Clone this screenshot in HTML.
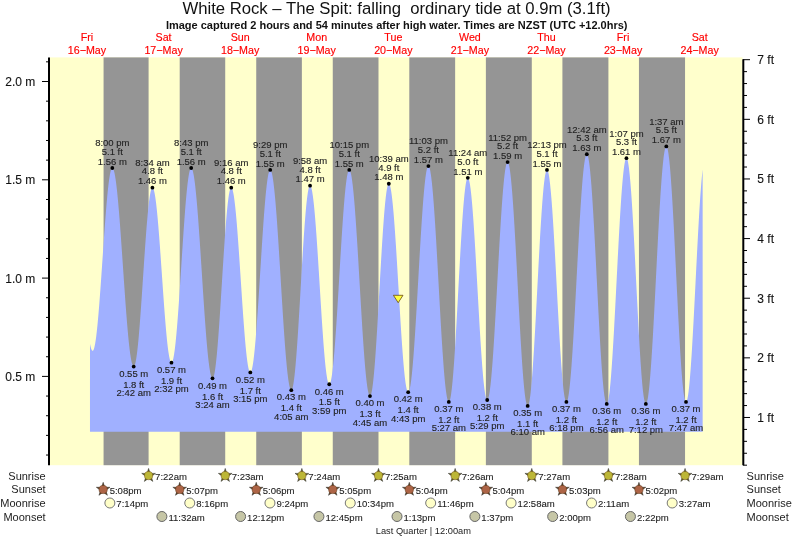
<!DOCTYPE html><html><head><meta charset="utf-8"><style>html,body{margin:0;padding:0;background:#fff;overflow:hidden;}svg{display:block}text{font-family:"Liberation Sans",sans-serif;} .lb text{stroke:#222;stroke-width:0.12px;}</style></head><body>
<div style="will-change:transform">
<svg width="793" height="539" viewBox="0 0 793 539">
<rect x="0" y="0" width="793" height="539" fill="#fff"/>
<rect x="49.0" y="57.4" width="693.6" height="407.8" fill="#ffffcc"/>
<rect x="103.57" y="57.4" width="45.02" height="407.8" fill="#959595"/>
<rect x="179.70" y="57.4" width="45.52" height="407.8" fill="#959595"/>
<rect x="256.23" y="57.4" width="45.63" height="407.8" fill="#959595"/>
<rect x="332.76" y="57.4" width="45.74" height="407.8" fill="#959595"/>
<rect x="409.30" y="57.4" width="45.84" height="407.8" fill="#959595"/>
<rect x="485.88" y="57.4" width="45.90" height="407.8" fill="#959595"/>
<rect x="562.41" y="57.4" width="46.00" height="407.8" fill="#959595"/>
<rect x="638.94" y="57.4" width="46.11" height="407.8" fill="#959595"/>
<polygon points="89.98,431.8 89.98,343.69 90.14,344.51 90.30,345.28 90.46,346.01 90.62,346.68 90.78,347.31 90.94,347.88 91.10,348.41 91.26,348.89 91.42,349.31 91.58,349.68 91.74,350.00 91.90,350.27 92.06,350.49 92.22,350.66 92.38,350.77 92.54,350.83 92.70,350.84 92.85,350.79 93.01,350.68 93.17,350.51 93.33,350.29 93.49,350.00 93.65,349.65 93.81,349.25 93.97,348.79 94.13,348.27 94.29,347.69 94.45,347.06 94.61,346.37 94.77,345.62 94.93,344.82 95.09,343.96 95.25,343.04 95.41,342.08 95.57,341.05 95.73,339.98 95.89,338.85 96.05,337.67 96.21,336.44 96.36,335.16 96.52,333.84 96.68,332.46 96.84,331.04 97.00,329.56 97.16,328.05 97.32,326.49 97.48,324.88 97.64,323.24 97.80,321.55 97.96,319.82 98.12,318.05 98.28,316.25 98.44,314.41 98.60,312.53 98.76,310.62 98.92,308.67 99.08,306.69 99.24,304.68 99.40,302.65 99.56,300.58 99.72,298.49 99.88,296.37 100.03,294.23 100.19,292.06 100.35,289.88 100.51,287.67 100.67,285.45 100.83,283.21 100.99,280.95 101.15,278.68 101.31,276.40 101.47,274.11 101.63,271.80 101.79,269.49 101.95,267.18 102.11,264.85 102.27,262.53 102.43,260.20 102.59,257.87 102.75,255.54 102.91,253.22 103.07,250.90 103.23,248.58 103.39,246.27 103.54,243.97 103.70,241.68 103.86,239.40 104.02,237.14 104.18,234.89 104.34,232.65 104.50,230.44 104.66,228.24 104.82,226.06 104.98,223.90 105.14,221.77 105.30,219.66 105.46,217.57 105.62,215.52 105.78,213.49 105.94,211.49 106.10,209.52 106.26,207.59 106.42,205.69 106.58,203.82 106.74,201.99 106.90,200.20 107.05,198.44 107.21,196.73 107.37,195.06 107.53,193.42 107.69,191.83 107.85,190.29 108.01,188.79 108.17,187.33 108.33,185.92 108.49,184.56 108.65,183.25 108.81,181.99 108.97,180.77 109.13,179.61 109.29,178.50 109.45,177.45 109.61,176.44 109.77,175.49 109.93,174.60 110.09,173.76 110.25,172.97 110.41,172.24 110.56,171.57 110.72,170.95 110.88,170.40 111.04,169.90 111.20,169.45 111.36,169.07 111.52,168.74 111.68,168.48 111.84,168.27 112.00,168.12 112.16,168.03 112.32,168.00 112.48,168.03 112.64,168.11 112.80,168.25 112.96,168.44 113.12,168.69 113.28,168.98 113.44,169.34 113.60,169.75 113.76,170.21 113.92,170.72 114.08,171.29 114.23,171.91 114.39,172.58 114.55,173.30 114.71,174.08 114.87,174.91 115.03,175.79 115.19,176.71 115.35,177.69 115.51,178.72 115.67,179.80 115.83,180.92 115.99,182.09 116.15,183.31 116.31,184.57 116.47,185.89 116.63,187.24 116.79,188.64 116.95,190.08 117.11,191.57 117.27,193.09 117.43,194.66 117.59,196.27 117.74,197.91 117.90,199.60 118.06,201.32 118.22,203.07 118.38,204.87 118.54,206.69 118.70,208.55 118.86,210.45 119.02,212.37 119.18,214.32 119.34,216.31 119.50,218.32 119.66,220.36 119.82,222.42 119.98,224.51 120.14,226.62 120.30,228.76 120.46,230.91 120.62,233.09 120.78,235.28 120.94,237.49 121.10,239.72 121.25,241.97 121.41,244.22 121.57,246.49 121.73,248.77 121.89,251.07 122.05,253.37 122.21,255.68 122.37,257.99 122.53,260.31 122.69,262.63 122.85,264.96 123.01,267.29 123.17,269.61 123.33,271.94 123.49,274.26 123.65,276.58 123.81,278.90 123.97,281.21 124.13,283.51 124.29,285.80 124.45,288.08 124.61,290.35 124.76,292.61 124.92,294.85 125.08,297.08 125.24,299.29 125.40,301.49 125.56,303.66 125.72,305.82 125.88,307.95 126.04,310.06 126.20,312.15 126.36,314.22 126.52,316.26 126.68,318.27 126.84,320.25 127.00,322.20 127.16,324.13 127.32,326.02 127.48,327.88 127.64,329.71 127.80,331.50 127.96,333.26 128.12,334.98 128.27,336.66 128.43,338.31 128.59,339.92 128.75,341.48 128.91,343.01 129.07,344.49 129.23,345.94 129.39,347.33 129.55,348.69 129.71,350.00 129.87,351.26 130.03,352.48 130.19,353.65 130.35,354.78 130.51,355.85 130.67,356.88 130.83,357.86 130.99,358.79 131.15,359.67 131.31,360.49 131.47,361.27 131.63,361.99 131.79,362.67 131.94,363.29 132.10,363.85 132.26,364.37 132.42,364.83 132.58,365.24 132.74,365.59 132.90,365.89 133.06,366.13 133.22,366.32 133.38,366.46 133.54,366.54 133.70,366.57 133.86,366.54 134.02,366.44 134.18,366.28 134.34,366.06 134.50,365.77 134.66,365.42 134.82,365.00 134.98,364.53 135.14,363.99 135.30,363.38 135.45,362.72 135.61,361.99 135.77,361.21 135.93,360.36 136.09,359.45 136.25,358.49 136.41,357.46 136.57,356.38 136.73,355.24 136.89,354.05 137.05,352.80 137.21,351.49 137.37,350.14 137.53,348.73 137.69,347.27 137.85,345.76 138.01,344.20 138.17,342.59 138.33,340.93 138.49,339.23 138.65,337.49 138.81,335.70 138.96,333.87 139.12,331.99 139.28,330.08 139.44,328.13 139.60,326.15 139.76,324.13 139.92,322.07 140.08,319.99 140.24,317.87 140.40,315.72 140.56,313.55 140.72,311.35 140.88,309.12 141.04,306.88 141.20,304.61 141.36,302.32 141.52,300.01 141.68,297.69 141.84,295.35 142.00,293.00 142.16,290.64 142.32,288.27 142.47,285.88 142.63,283.50 142.79,281.11 142.95,278.71 143.11,276.32 143.27,273.92 143.43,271.53 143.59,269.14 143.75,266.76 143.91,264.39 144.07,262.02 144.23,259.67 144.39,257.32 144.55,254.99 144.71,252.68 144.87,250.39 145.03,248.11 145.19,245.86 145.35,243.62 145.51,241.42 145.67,239.23 145.83,237.08 145.99,234.95 146.14,232.85 146.30,230.79 146.46,228.76 146.62,226.76 146.78,224.80 146.94,222.87 147.10,220.99 147.26,219.14 147.42,217.34 147.58,215.58 147.74,213.86 147.90,212.19 148.06,210.57 148.22,208.99 148.38,207.47 148.54,205.99 148.70,204.56 148.86,203.19 149.02,201.86 149.18,200.60 149.34,199.38 149.50,198.23 149.65,197.13 149.81,196.08 149.97,195.10 150.13,194.17 150.29,193.30 150.45,192.50 150.61,191.75 150.77,191.07 150.93,190.44 151.09,189.88 151.25,189.38 151.41,188.95 151.57,188.57 151.73,188.27 151.89,188.02 152.05,187.84 152.21,187.72 152.37,187.67 152.53,187.68 152.69,187.75 152.85,187.88 153.01,188.07 153.16,188.32 153.32,188.64 153.48,189.01 153.64,189.44 153.80,189.93 153.96,190.48 154.12,191.09 154.28,191.76 154.44,192.48 154.60,193.27 154.76,194.10 154.92,195.00 155.08,195.95 155.24,196.96 155.40,198.02 155.56,199.13 155.72,200.30 155.88,201.51 156.04,202.78 156.20,204.10 156.36,205.47 156.52,206.89 156.67,208.35 156.83,209.86 156.99,211.42 157.15,213.02 157.31,214.66 157.47,216.35 157.63,218.07 157.79,219.84 157.95,221.64 158.11,223.48 158.27,225.36 158.43,227.27 158.59,229.21 158.75,231.19 158.91,233.19 159.07,235.23 159.23,237.29 159.39,239.38 159.55,241.49 159.71,243.63 159.87,245.79 160.03,247.97 160.19,250.17 160.34,252.38 160.50,254.62 160.66,256.86 160.82,259.12 160.98,261.39 161.14,263.67 161.30,265.96 161.46,268.25 161.62,270.55 161.78,272.85 161.94,275.15 162.10,277.45 162.26,279.76 162.42,282.05 162.58,284.35 162.74,286.63 162.90,288.91 163.06,291.18 163.22,293.44 163.38,295.69 163.54,297.92 163.70,300.13 163.85,302.33 164.01,304.51 164.17,306.67 164.33,308.81 164.49,310.92 164.65,313.01 164.81,315.07 164.97,317.11 165.13,319.12 165.29,321.09 165.45,323.04 165.61,324.95 165.77,326.82 165.93,328.66 166.09,330.47 166.25,332.23 166.41,333.96 166.57,335.64 166.73,337.28 166.89,338.88 167.05,340.44 167.21,341.95 167.36,343.41 167.52,344.83 167.68,346.20 167.84,347.52 168.00,348.79 168.16,350.01 168.32,351.17 168.48,352.29 168.64,353.34 168.80,354.35 168.96,355.30 169.12,356.20 169.28,357.04 169.44,357.82 169.60,358.54 169.76,359.21 169.92,359.82 170.08,360.37 170.24,360.86 170.40,361.29 170.56,361.67 170.72,361.98 170.87,362.23 171.03,362.42 171.19,362.55 171.35,362.62 171.51,362.63 171.67,362.58 171.83,362.47 171.99,362.29 172.15,362.05 172.31,361.75 172.47,361.38 172.63,360.95 172.79,360.47 172.95,359.92 173.11,359.30 173.27,358.63 173.43,357.90 173.59,357.11 173.75,356.26 173.91,355.35 174.07,354.38 174.23,353.35 174.38,352.27 174.54,351.13 174.70,349.94 174.86,348.69 175.02,347.39 175.18,346.04 175.34,344.63 175.50,343.17 175.66,341.66 175.82,340.11 175.98,338.50 176.14,336.85 176.30,335.15 176.46,333.40 176.62,331.61 176.78,329.78 176.94,327.91 177.10,326.00 177.26,324.04 177.42,322.05 177.58,320.03 177.74,317.97 177.90,315.87 178.05,313.74 178.21,311.58 178.37,309.39 178.53,307.17 178.69,304.93 178.85,302.66 179.01,300.36 179.17,298.05 179.33,295.71 179.49,293.35 179.65,290.97 179.81,288.58 179.97,286.17 180.13,283.75 180.29,281.32 180.45,278.87 180.61,276.42 180.77,273.96 180.93,271.50 181.09,269.03 181.25,266.56 181.41,264.08 181.56,261.61 181.72,259.14 181.88,256.68 182.04,254.22 182.20,251.77 182.36,249.32 182.52,246.89 182.68,244.47 182.84,242.06 183.00,239.67 183.16,237.29 183.32,234.94 183.48,232.60 183.64,230.28 183.80,227.98 183.96,225.71 184.12,223.47 184.28,221.25 184.44,219.06 184.60,216.90 184.76,214.77 184.92,212.68 185.07,210.61 185.23,208.59 185.39,206.60 185.55,204.64 185.71,202.73 185.87,200.86 186.03,199.03 186.19,197.24 186.35,195.50 186.51,193.80 186.67,192.14 186.83,190.54 186.99,188.98 187.15,187.47 187.31,186.01 187.47,184.61 187.63,183.25 187.79,181.95 187.95,180.70 188.11,179.51 188.27,178.37 188.43,177.29 188.58,176.26 188.74,175.29 188.90,174.38 189.06,173.53 189.22,172.74 189.38,172.01 189.54,171.34 189.70,170.73 189.86,170.18 190.02,169.69 190.18,169.26 190.34,168.90 190.50,168.59 190.66,168.35 190.82,168.17 190.98,168.06 191.14,168.01 191.30,168.02 191.46,168.08 191.62,168.21 191.78,168.39 191.94,168.64 192.09,168.94 192.25,169.29 192.41,169.71 192.57,170.18 192.73,170.71 192.89,171.29 193.05,171.93 193.21,172.63 193.37,173.38 193.53,174.19 193.69,175.05 193.85,175.97 194.01,176.94 194.17,177.97 194.33,179.04 194.49,180.17 194.65,181.35 194.81,182.58 194.97,183.86 195.13,185.19 195.29,186.57 195.45,188.00 195.61,189.47 195.76,190.99 195.92,192.55 196.08,194.16 196.24,195.82 196.40,197.51 196.56,199.25 196.72,201.03 196.88,202.85 197.04,204.70 197.20,206.60 197.36,208.53 197.52,210.50 197.68,212.50 197.84,214.54 198.00,216.60 198.16,218.70 198.32,220.83 198.48,222.99 198.64,225.18 198.80,227.39 198.96,229.63 199.12,231.89 199.27,234.17 199.43,236.48 199.59,238.81 199.75,241.15 199.91,243.52 200.07,245.90 200.23,248.29 200.39,250.70 200.55,253.12 200.71,255.55 200.87,257.99 201.03,260.44 201.19,262.90 201.35,265.36 201.51,267.83 201.67,270.30 201.83,272.77 201.99,275.24 202.15,277.72 202.31,280.18 202.47,282.65 202.63,285.11 202.78,287.56 202.94,290.01 203.10,292.44 203.26,294.87 203.42,297.28 203.58,299.68 203.74,302.06 203.90,304.43 204.06,306.78 204.22,309.12 204.38,311.43 204.54,313.72 204.70,315.99 204.86,318.24 205.02,320.46 205.18,322.65 205.34,324.82 205.50,326.96 205.66,329.07 205.82,331.15 205.98,333.20 206.14,335.21 206.29,337.19 206.45,339.13 206.61,341.04 206.77,342.91 206.93,344.74 207.09,346.53 207.25,348.28 207.41,349.99 207.57,351.66 207.73,353.29 207.89,354.87 208.05,356.40 208.21,357.89 208.37,359.33 208.53,360.73 208.69,362.07 208.85,363.37 209.01,364.62 209.17,365.81 209.33,366.96 209.49,368.05 209.65,369.09 209.81,370.08 209.96,371.02 210.12,371.90 210.28,372.72 210.44,373.49 210.60,374.21 210.76,374.87 210.92,375.47 211.08,376.02 211.24,376.51 211.40,376.95 211.56,377.32 211.72,377.64 211.88,377.90 212.04,378.10 212.20,378.25 212.36,378.34 212.52,378.37 212.68,378.33 212.84,378.23 213.00,378.06 213.16,377.82 213.32,377.51 213.47,377.14 213.63,376.70 213.79,376.19 213.95,375.61 214.11,374.97 214.27,374.26 214.43,373.49 214.59,372.65 214.75,371.75 214.91,370.78 215.07,369.75 215.23,368.66 215.39,367.50 215.55,366.29 215.71,365.02 215.87,363.69 216.03,362.30 216.19,360.85 216.35,359.35 216.51,357.79 216.67,356.18 216.83,354.52 216.98,352.80 217.14,351.04 217.30,349.22 217.46,347.36 217.62,345.46 217.78,343.51 217.94,341.51 218.10,339.47 218.26,337.40 218.42,335.28 218.58,333.13 218.74,330.94 218.90,328.71 219.06,326.46 219.22,324.17 219.38,321.85 219.54,319.50 219.70,317.13 219.86,314.74 220.02,312.32 220.18,309.88 220.34,307.42 220.49,304.94 220.65,302.45 220.81,299.94 220.97,297.43 221.13,294.90 221.29,292.36 221.45,289.82 221.61,287.27 221.77,284.72 221.93,282.16 222.09,279.61 222.25,277.06 222.41,274.52 222.57,271.98 222.73,269.45 222.89,266.92 223.05,264.41 223.21,261.92 223.37,259.43 223.53,256.97 223.69,254.52 223.85,252.10 224.00,249.69 224.16,247.31 224.32,244.96 224.48,242.63 224.64,240.33 224.80,238.07 224.96,235.83 225.12,233.63 225.28,231.46 225.44,229.34 225.60,227.24 225.76,225.19 225.92,223.19 226.08,221.22 226.24,219.30 226.40,217.42 226.56,215.59 226.72,213.81 226.88,212.08 227.04,210.40 227.20,208.77 227.36,207.20 227.52,205.67 227.67,204.21 227.83,202.80 227.99,201.45 228.15,200.16 228.31,198.92 228.47,197.75 228.63,196.64 228.79,195.59 228.95,194.60 229.11,193.68 229.27,192.82 229.43,192.02 229.59,191.29 229.75,190.63 229.91,190.03 230.07,189.50 230.23,189.03 230.39,188.63 230.55,188.31 230.71,188.04 230.87,187.85 231.03,187.72 231.18,187.67 231.34,187.68 231.50,187.75 231.66,187.89 231.82,188.09 231.98,188.36 232.14,188.68 232.30,189.08 232.46,189.53 232.62,190.05 232.78,190.62 232.94,191.26 233.10,191.96 233.26,192.73 233.42,193.55 233.58,194.43 233.74,195.37 233.90,196.37 234.06,197.43 234.22,198.54 234.38,199.71 234.54,200.93 234.69,202.21 234.85,203.55 235.01,204.93 235.17,206.37 235.33,207.86 235.49,209.40 235.65,210.98 235.81,212.62 235.97,214.30 236.13,216.03 236.29,217.80 236.45,219.61 236.61,221.47 236.77,223.36 236.93,225.30 237.09,227.27 237.25,229.28 237.41,231.32 237.57,233.40 237.73,235.51 237.89,237.65 238.05,239.82 238.20,242.02 238.36,244.24 238.52,246.49 238.68,248.76 238.84,251.05 239.00,253.36 239.16,255.70 239.32,258.04 239.48,260.41 239.64,262.78 239.80,265.17 239.96,267.57 240.12,269.98 240.28,272.39 240.44,274.81 240.60,277.24 240.76,279.66 240.92,282.09 241.08,284.51 241.24,286.93 241.40,289.35 241.56,291.76 241.72,294.16 241.87,296.55 242.03,298.93 242.19,301.30 242.35,303.66 242.51,305.99 242.67,308.31 242.83,310.61 242.99,312.89 243.15,315.15 243.31,317.38 243.47,319.58 243.63,321.76 243.79,323.91 243.95,326.03 244.11,328.12 244.27,330.18 244.43,332.20 244.59,334.18 244.75,336.13 244.91,338.04 245.07,339.91 245.23,341.73 245.38,343.52 245.54,345.26 245.70,346.96 245.86,348.61 246.02,350.21 246.18,351.77 246.34,353.27 246.50,354.73 246.66,356.13 246.82,357.48 246.98,358.78 247.14,360.02 247.30,361.21 247.46,362.34 247.62,363.42 247.78,364.44 247.94,365.40 248.10,366.30 248.26,367.14 248.42,367.92 248.58,368.64 248.74,369.30 248.89,369.90 249.05,370.44 249.21,370.91 249.37,371.32 249.53,371.67 249.69,371.96 249.85,372.18 250.01,372.34 250.17,372.44 250.33,372.47 250.49,372.44 250.65,372.34 250.81,372.18 250.97,371.95 251.13,371.67 251.29,371.31 251.45,370.90 251.61,370.42 251.77,369.88 251.93,369.27 252.09,368.60 252.25,367.87 252.40,367.08 252.56,366.23 252.72,365.32 252.88,364.35 253.04,363.32 253.20,362.23 253.36,361.08 253.52,359.88 253.68,358.62 253.84,357.30 254.00,355.93 254.16,354.51 254.32,353.03 254.48,351.50 254.64,349.92 254.80,348.29 254.96,346.61 255.12,344.89 255.28,343.11 255.44,341.29 255.60,339.43 255.76,337.52 255.91,335.57 256.07,333.58 256.23,331.55 256.39,329.49 256.55,327.38 256.71,325.24 256.87,323.07 257.03,320.86 257.19,318.62 257.35,316.35 257.51,314.05 257.67,311.73 257.83,309.38 257.99,307.00 258.15,304.60 258.31,302.18 258.47,299.74 258.63,297.29 258.79,294.81 258.95,292.33 259.11,289.82 259.27,287.31 259.43,284.79 259.58,282.25 259.74,279.71 259.90,277.17 260.06,274.62 260.22,272.07 260.38,269.52 260.54,266.97 260.70,264.42 260.86,261.88 261.02,259.34 261.18,256.81 261.34,254.29 261.50,251.78 261.66,249.28 261.82,246.80 261.98,244.33 262.14,241.88 262.30,239.45 262.46,237.03 262.62,234.64 262.78,232.28 262.94,229.93 263.09,227.62 263.25,225.33 263.41,223.07 263.57,220.84 263.73,218.64 263.89,216.48 264.05,214.35 264.21,212.26 264.37,210.20 264.53,208.19 264.69,206.21 264.85,204.27 265.01,202.38 265.17,200.53 265.33,198.73 265.49,196.97 265.65,195.26 265.81,193.60 265.97,191.98 266.13,190.42 266.29,188.91 266.45,187.45 266.60,186.04 266.76,184.69 266.92,183.39 267.08,182.15 267.24,180.97 267.40,179.84 267.56,178.77 267.72,177.76 267.88,176.81 268.04,175.92 268.20,175.08 268.36,174.31 268.52,173.61 268.68,172.96 268.84,172.38 269.00,171.85 269.16,171.40 269.32,171.00 269.48,170.67 269.64,170.40 269.80,170.20 269.96,170.06 270.11,169.98 270.27,169.97 270.43,170.03 270.59,170.14 270.75,170.32 270.91,170.55 271.07,170.86 271.23,171.22 271.39,171.64 271.55,172.13 271.71,172.68 271.87,173.28 272.03,173.95 272.19,174.68 272.35,175.47 272.51,176.31 272.67,177.22 272.83,178.18 272.99,179.21 273.15,180.29 273.31,181.42 273.47,182.61 273.63,183.86 273.78,185.16 273.94,186.51 274.10,187.92 274.26,189.38 274.42,190.89 274.58,192.46 274.74,194.07 274.90,195.73 275.06,197.44 275.22,199.19 275.38,200.99 275.54,202.84 275.70,204.73 275.86,206.66 276.02,208.63 276.18,210.64 276.34,212.70 276.50,214.79 276.66,216.92 276.82,219.08 276.98,221.28 277.14,223.51 277.29,225.78 277.45,228.07 277.61,230.40 277.77,232.75 277.93,235.13 278.09,237.53 278.25,239.96 278.41,242.41 278.57,244.88 278.73,247.38 278.89,249.89 279.05,252.42 279.21,254.96 279.37,257.52 279.53,260.09 279.69,262.67 279.85,265.26 280.01,267.86 280.17,270.47 280.33,273.08 280.49,275.70 280.65,278.32 280.80,280.94 280.96,283.56 281.12,286.18 281.28,288.79 281.44,291.40 281.60,294.00 281.76,296.60 281.92,299.18 282.08,301.76 282.24,304.32 282.40,306.87 282.56,309.40 282.72,311.92 282.88,314.42 283.04,316.90 283.20,319.36 283.36,321.79 283.52,324.21 283.68,326.59 283.84,328.96 284.00,331.29 284.16,333.59 284.31,335.87 284.47,338.11 284.63,340.32 284.79,342.50 284.95,344.64 285.11,346.74 285.27,348.81 285.43,350.83 285.59,352.82 285.75,354.77 285.91,356.67 286.07,358.53 286.23,360.35 286.39,362.12 286.55,363.84 286.71,365.52 286.87,367.14 287.03,368.72 287.19,370.25 287.35,371.73 287.51,373.15 287.67,374.53 287.82,375.85 287.98,377.11 288.14,378.32 288.30,379.47 288.46,380.57 288.62,381.61 288.78,382.60 288.94,383.52 289.10,384.39 289.26,385.20 289.42,385.95 289.58,386.63 289.74,387.26 289.90,387.83 290.06,388.33 290.22,388.78 290.38,389.16 290.54,389.48 290.70,389.74 290.86,389.94 291.02,390.08 291.18,390.15 291.34,390.16 291.49,390.10 291.65,389.96 291.81,389.76 291.97,389.48 292.13,389.13 292.29,388.70 292.45,388.21 292.61,387.64 292.77,387.00 292.93,386.30 293.09,385.52 293.25,384.67 293.41,383.75 293.57,382.77 293.73,381.71 293.89,380.59 294.05,379.41 294.21,378.16 294.37,376.84 294.53,375.46 294.69,374.02 294.85,372.52 295.00,370.96 295.16,369.34 295.32,367.66 295.48,365.92 295.64,364.13 295.80,362.28 295.96,360.38 296.12,358.43 296.28,356.43 296.44,354.38 296.60,352.28 296.76,350.13 296.92,347.95 297.08,345.72 297.24,343.44 297.40,341.13 297.56,338.78 297.72,336.40 297.88,333.98 298.04,331.52 298.20,329.04 298.36,326.53 298.51,323.99 298.67,321.42 298.83,318.83 298.99,316.22 299.15,313.58 299.31,310.93 299.47,308.26 299.63,305.58 299.79,302.89 299.95,300.18 300.11,297.47 300.27,294.75 300.43,292.02 300.59,289.29 300.75,286.57 300.91,283.84 301.07,281.11 301.23,278.39 301.39,275.68 301.55,272.97 301.71,270.28 301.87,267.60 302.02,264.93 302.18,262.28 302.34,259.64 302.50,257.03 302.66,254.44 302.82,251.87 302.98,249.33 303.14,246.82 303.30,244.34 303.46,241.88 303.62,239.46 303.78,237.08 303.94,234.73 304.10,232.42 304.26,230.14 304.42,227.91 304.58,225.73 304.74,223.58 304.90,221.48 305.06,219.43 305.22,217.43 305.38,215.48 305.54,213.58 305.69,211.73 305.85,209.94 306.01,208.20 306.17,206.52 306.33,204.90 306.49,203.34 306.65,201.84 306.81,200.40 306.97,199.02 307.13,197.70 307.29,196.45 307.45,195.27 307.61,194.15 307.77,193.09 307.93,192.11 308.09,191.19 308.25,190.34 308.41,189.56 308.57,188.86 308.73,188.22 308.89,187.65 309.05,187.16 309.20,186.73 309.36,186.38 309.52,186.10 309.68,185.90 309.84,185.76 310.00,185.70 310.16,185.71 310.32,185.79 310.48,185.94 310.64,186.15 310.80,186.43 310.96,186.78 311.12,187.20 311.28,187.68 311.44,188.23 311.60,188.84 311.76,189.52 311.92,190.27 312.08,191.08 312.24,191.95 312.40,192.89 312.56,193.89 312.71,194.95 312.87,196.07 313.03,197.26 313.19,198.50 313.35,199.80 313.51,201.16 313.67,202.58 313.83,204.05 313.99,205.58 314.15,207.17 314.31,208.80 314.47,210.49 314.63,212.23 314.79,214.02 314.95,215.85 315.11,217.74 315.27,219.67 315.43,221.64 315.59,223.66 315.75,225.72 315.91,227.82 316.07,229.96 316.22,232.13 316.38,234.35 316.54,236.59 316.70,238.87 316.86,241.18 317.02,243.52 317.18,245.89 317.34,248.29 317.50,250.71 317.66,253.15 317.82,255.62 317.98,258.10 318.14,260.61 318.30,263.13 318.46,265.66 318.62,268.21 318.78,270.77 318.94,273.34 319.10,275.92 319.26,278.51 319.42,281.09 319.58,283.69 319.74,286.28 319.89,288.87 320.05,291.46 320.21,294.04 320.37,296.62 320.53,299.19 320.69,301.75 320.85,304.30 321.01,306.83 321.17,309.35 321.33,311.86 321.49,314.34 321.65,316.81 321.81,319.25 321.97,321.67 322.13,324.07 322.29,326.44 322.45,328.78 322.61,331.09 322.77,333.37 322.93,335.62 323.09,337.83 323.25,340.00 323.40,342.14 323.56,344.24 323.72,346.30 323.88,348.32 324.04,350.29 324.20,352.22 324.36,354.11 324.52,355.94 324.68,357.73 324.84,359.47 325.00,361.16 325.16,362.80 325.32,364.38 325.48,365.91 325.64,367.38 325.80,368.80 325.96,370.16 326.12,371.46 326.28,372.71 326.44,373.89 326.60,375.01 326.76,376.07 326.91,377.07 327.07,378.01 327.23,378.88 327.39,379.69 327.55,380.44 327.71,381.12 327.87,381.73 328.03,382.28 328.19,382.76 328.35,383.18 328.51,383.53 328.67,383.81 328.83,384.02 328.99,384.17 329.15,384.25 329.31,384.26 329.47,384.20 329.63,384.08 329.79,383.89 329.95,383.63 330.11,383.31 330.27,382.92 330.42,382.46 330.58,381.93 330.74,381.35 330.90,380.69 331.06,379.97 331.22,379.18 331.38,378.34 331.54,377.42 331.70,376.45 331.86,375.41 332.02,374.31 332.18,373.15 332.34,371.93 332.50,370.65 332.66,369.31 332.82,367.91 332.98,366.45 333.14,364.94 333.30,363.38 333.46,361.76 333.62,360.08 333.78,358.36 333.93,356.58 334.09,354.76 334.25,352.88 334.41,350.96 334.57,348.99 334.73,346.98 334.89,344.92 335.05,342.82 335.21,340.67 335.37,338.49 335.53,336.27 335.69,334.01 335.85,331.72 336.01,329.39 336.17,327.03 336.33,324.64 336.49,322.22 336.65,319.77 336.81,317.29 336.97,314.79 337.13,312.26 337.29,309.72 337.45,307.15 337.60,304.56 337.76,301.96 337.92,299.34 338.08,296.70 338.24,294.06 338.40,291.40 338.56,288.73 338.72,286.06 338.88,283.38 339.04,280.70 339.20,278.01 339.36,275.33 339.52,272.64 339.68,269.96 339.84,267.28 340.00,264.61 340.16,261.95 340.32,259.30 340.48,256.65 340.64,254.02 340.80,251.41 340.96,248.81 341.11,246.23 341.27,243.67 341.43,241.13 341.59,238.61 341.75,236.11 341.91,233.65 342.07,231.20 342.23,228.79 342.39,226.41 342.55,224.06 342.71,221.74 342.87,219.46 343.03,217.22 343.19,215.01 343.35,212.84 343.51,210.71 343.67,208.63 343.83,206.58 343.99,204.58 344.15,202.63 344.31,200.72 344.47,198.86 344.62,197.05 344.78,195.29 344.94,193.59 345.10,191.93 345.26,190.33 345.42,188.78 345.58,187.29 345.74,185.85 345.90,184.47 346.06,183.15 346.22,181.89 346.38,180.69 346.54,179.55 346.70,178.47 346.86,177.45 347.02,176.50 347.18,175.61 347.34,174.78 347.50,174.02 347.66,173.32 347.82,172.68 347.98,172.12 348.13,171.62 348.29,171.18 348.45,170.81 348.61,170.51 348.77,170.27 348.93,170.10 349.09,170.00 349.25,169.97 349.41,170.00 349.57,170.10 349.73,170.27 349.89,170.50 350.05,170.79 350.21,171.16 350.37,171.58 350.53,172.08 350.69,172.63 350.85,173.25 351.01,173.94 351.17,174.69 351.33,175.50 351.49,176.38 351.64,177.32 351.80,178.32 351.96,179.38 352.12,180.50 352.28,181.68 352.44,182.92 352.60,184.22 352.76,185.57 352.92,186.99 353.08,188.46 353.24,189.98 353.40,191.56 353.56,193.19 353.72,194.88 353.88,196.61 354.04,198.40 354.20,200.24 354.36,202.12 354.52,204.05 354.68,206.03 354.84,208.05 355.00,210.12 355.16,212.23 355.31,214.38 355.47,216.57 355.63,218.80 355.79,221.06 355.95,223.37 356.11,225.71 356.27,228.08 356.43,230.48 356.59,232.91 356.75,235.38 356.91,237.87 357.07,240.39 357.23,242.93 357.39,245.49 357.55,248.08 357.71,250.69 357.87,253.32 358.03,255.96 358.19,258.62 358.35,261.30 358.51,263.98 358.67,266.68 358.82,269.39 358.98,272.10 359.14,274.83 359.30,277.55 359.46,280.28 359.62,283.01 359.78,285.75 359.94,288.48 360.10,291.20 360.26,293.93 360.42,296.64 360.58,299.35 360.74,302.05 360.90,304.73 361.06,307.41 361.22,310.07 361.38,312.71 361.54,315.34 361.70,317.95 361.86,320.54 362.02,323.10 362.18,325.64 362.33,328.16 362.49,330.65 362.65,333.12 362.81,335.55 362.97,337.95 363.13,340.32 363.29,342.66 363.45,344.97 363.61,347.23 363.77,349.46 363.93,351.65 364.09,353.80 364.25,355.91 364.41,357.98 364.57,360.00 364.73,361.98 364.89,363.91 365.05,365.79 365.21,367.63 365.37,369.42 365.53,371.15 365.69,372.84 365.84,374.47 366.00,376.05 366.16,377.57 366.32,379.04 366.48,380.46 366.64,381.81 366.80,383.11 366.96,384.35 367.12,385.53 367.28,386.65 367.44,387.71 367.60,388.71 367.76,389.65 367.92,390.53 368.08,391.34 368.24,392.09 368.40,392.78 368.56,393.40 368.72,393.95 368.88,394.45 369.04,394.87 369.20,395.24 369.36,395.53 369.51,395.76 369.67,395.93 369.83,396.03 369.99,396.06 370.15,396.02 370.31,395.91 370.47,395.72 370.63,395.46 370.79,395.12 370.95,394.71 371.11,394.22 371.27,393.66 371.43,393.03 371.59,392.32 371.75,391.54 371.91,390.69 372.07,389.76 372.23,388.77 372.39,387.71 372.55,386.57 372.71,385.37 372.87,384.10 373.02,382.76 373.18,381.36 373.34,379.89 373.50,378.36 373.66,376.77 373.82,375.12 373.98,373.40 374.14,371.62 374.30,369.79 374.46,367.90 374.62,365.96 374.78,363.96 374.94,361.91 375.10,359.81 375.26,357.65 375.42,355.45 375.58,353.21 375.74,350.92 375.90,348.58 376.06,346.21 376.22,343.79 376.38,341.34 376.53,338.85 376.69,336.32 376.85,333.76 377.01,331.18 377.17,328.56 377.33,325.91 377.49,323.24 377.65,320.54 377.81,317.83 377.97,315.09 378.13,312.34 378.29,309.57 378.45,306.78 378.61,303.99 378.77,301.18 378.93,298.37 379.09,295.55 379.25,292.72 379.41,289.90 379.57,287.07 379.73,284.25 379.89,281.43 380.04,278.61 380.20,275.81 380.36,273.01 380.52,270.23 380.68,267.45 380.84,264.70 381.00,261.96 381.16,259.25 381.32,256.55 381.48,253.88 381.64,251.24 381.80,248.62 381.96,246.03 382.12,243.47 382.28,240.94 382.44,238.45 382.60,236.00 382.76,233.58 382.92,231.21 383.08,228.87 383.24,226.58 383.40,224.34 383.56,222.14 383.71,219.99 383.87,217.88 384.03,215.83 384.19,213.83 384.35,211.89 384.51,210.00 384.67,208.17 384.83,206.39 384.99,204.68 385.15,203.02 385.31,201.43 385.47,199.90 385.63,198.43 385.79,197.03 385.95,195.69 386.11,194.42 386.27,193.22 386.43,192.09 386.59,191.02 386.75,190.03 386.91,189.10 387.07,188.25 387.22,187.47 387.38,186.77 387.54,186.13 387.70,185.57 387.86,185.08 388.02,184.67 388.18,184.33 388.34,184.07 388.50,183.88 388.66,183.77 388.82,183.73 388.98,183.77 389.14,183.87 389.30,184.05 389.46,184.29 389.62,184.60 389.78,184.99 389.94,185.44 390.10,185.96 390.26,186.55 390.42,187.21 390.58,187.93 390.73,188.72 390.89,189.58 391.05,190.50 391.21,191.49 391.37,192.55 391.53,193.66 391.69,194.85 391.85,196.09 392.01,197.39 392.17,198.76 392.33,200.18 392.49,201.67 392.65,203.21 392.81,204.81 392.97,206.46 393.13,208.17 393.29,209.94 393.45,211.75 393.61,213.62 393.77,215.53 393.93,217.50 394.09,219.51 394.24,221.57 394.40,223.67 394.56,225.81 394.72,228.00 394.88,230.23 395.04,232.49 395.20,234.80 395.36,237.13 395.52,239.51 395.68,241.91 395.84,244.35 396.00,246.81 396.16,249.30 396.32,251.82 396.48,254.37 396.64,256.93 396.80,259.52 396.96,262.12 397.12,264.74 397.28,267.38 397.44,270.03 397.60,272.70 397.75,275.37 397.91,278.05 398.07,280.74 398.23,283.43 398.39,286.13 398.55,288.83 398.71,291.53 398.87,294.22 399.03,296.91 399.19,299.60 399.35,302.27 399.51,304.94 399.67,307.60 399.83,310.24 399.99,312.87 400.15,315.48 400.31,318.07 400.47,320.64 400.63,323.19 400.79,325.72 400.95,328.22 401.11,330.69 401.27,333.14 401.42,335.56 401.58,337.94 401.74,340.29 401.90,342.60 402.06,344.88 402.22,347.12 402.38,349.32 402.54,351.48 402.70,353.60 402.86,355.67 403.02,357.70 403.18,359.68 403.34,361.61 403.50,363.49 403.66,365.32 403.82,367.10 403.98,368.83 404.14,370.50 404.30,372.12 404.46,373.68 404.62,375.19 404.78,376.63 404.93,378.02 405.09,379.34 405.25,380.61 405.41,381.81 405.57,382.95 405.73,384.02 405.89,385.03 406.05,385.98 406.21,386.86 406.37,387.67 406.53,388.42 406.69,389.10 406.85,389.71 407.01,390.26 407.17,390.73 407.33,391.14 407.49,391.47 407.65,391.74 407.81,391.94 407.97,392.07 408.13,392.12 408.29,392.11 408.44,392.03 408.60,391.88 408.76,391.66 408.92,391.37 409.08,391.01 409.24,390.59 409.40,390.09 409.56,389.53 409.72,388.89 409.88,388.20 410.04,387.43 410.20,386.60 410.36,385.70 410.52,384.73 410.68,383.70 410.84,382.61 411.00,381.45 411.16,380.23 411.32,378.94 411.48,377.60 411.64,376.19 411.80,374.73 411.95,373.21 412.11,371.62 412.27,369.99 412.43,368.29 412.59,366.54 412.75,364.74 412.91,362.88 413.07,360.98 413.23,359.02 413.39,357.01 413.55,354.96 413.71,352.85 413.87,350.71 414.03,348.52 414.19,346.28 414.35,344.01 414.51,341.69 414.67,339.34 414.83,336.95 414.99,334.52 415.15,332.06 415.31,329.57 415.46,327.05 415.62,324.49 415.78,321.91 415.94,319.30 416.10,316.67 416.26,314.02 416.42,311.34 416.58,308.64 416.74,305.93 416.90,303.20 417.06,300.45 417.22,297.69 417.38,294.92 417.54,292.14 417.70,289.35 417.86,286.55 418.02,283.75 418.18,280.95 418.34,278.15 418.50,275.35 418.66,272.54 418.82,269.75 418.98,266.96 419.13,264.17 419.29,261.40 419.45,258.64 419.61,255.88 419.77,253.15 419.93,250.43 420.09,247.72 420.25,245.04 420.41,242.38 420.57,239.74 420.73,237.12 420.89,234.53 421.05,231.97 421.21,229.43 421.37,226.93 421.53,224.46 421.69,222.02 421.85,219.62 422.01,217.25 422.17,214.93 422.33,212.64 422.49,210.39 422.64,208.18 422.80,206.02 422.96,203.91 423.12,201.83 423.28,199.81 423.44,197.84 423.60,195.91 423.76,194.04 423.92,192.22 424.08,190.45 424.24,188.74 424.40,187.08 424.56,185.48 424.72,183.94 424.88,182.45 425.04,181.03 425.20,179.66 425.36,178.36 425.52,177.12 425.68,175.94 425.84,174.82 426.00,173.77 426.15,172.78 426.31,171.86 426.47,171.01 426.63,170.22 426.79,169.50 426.95,168.84 427.11,168.26 427.27,167.74 427.43,167.29 427.59,166.91 427.75,166.59 427.91,166.35 428.07,166.18 428.23,166.07 428.39,166.04 428.55,166.07 428.71,166.18 428.87,166.36 429.03,166.61 429.19,166.93 429.35,167.31 429.51,167.77 429.66,168.30 429.82,168.90 429.98,169.57 430.14,170.31 430.30,171.12 430.46,171.99 430.62,172.93 430.78,173.94 430.94,175.02 431.10,176.16 431.26,177.36 431.42,178.63 431.58,179.97 431.74,181.36 431.90,182.82 432.06,184.34 432.22,185.92 432.38,187.56 432.54,189.25 432.70,191.00 432.86,192.81 433.02,194.68 433.18,196.60 433.33,198.57 433.49,200.59 433.65,202.66 433.81,204.78 433.97,206.95 434.13,209.16 434.29,211.43 434.45,213.73 434.61,216.08 434.77,218.46 434.93,220.89 435.09,223.35 435.25,225.86 435.41,228.39 435.57,230.96 435.73,233.56 435.89,236.20 436.05,238.86 436.21,241.54 436.37,244.26 436.53,247.00 436.69,249.76 436.84,252.54 437.00,255.34 437.16,258.15 437.32,260.99 437.48,263.83 437.64,266.69 437.80,269.56 437.96,272.44 438.12,275.32 438.28,278.21 438.44,281.10 438.60,284.00 438.76,286.89 438.92,289.79 439.08,292.68 439.24,295.56 439.40,298.44 439.56,301.31 439.72,304.16 439.88,307.01 440.04,309.84 440.20,312.66 440.35,315.46 440.51,318.24 440.67,321.00 440.83,323.74 440.99,326.45 441.15,329.14 441.31,331.80 441.47,334.43 441.63,337.03 441.79,339.60 441.95,342.14 442.11,344.64 442.27,347.11 442.43,349.53 442.59,351.92 442.75,354.27 442.91,356.57 443.07,358.83 443.23,361.05 443.39,363.22 443.55,365.34 443.71,367.41 443.86,369.43 444.02,371.40 444.18,373.32 444.34,375.18 444.50,376.99 444.66,378.74 444.82,380.44 444.98,382.08 445.14,383.66 445.30,385.18 445.46,386.63 445.62,388.03 445.78,389.36 445.94,390.63 446.10,391.84 446.26,392.98 446.42,394.05 446.58,395.06 446.74,396.00 446.90,396.88 447.06,397.69 447.22,398.42 447.38,399.09 447.53,399.69 447.69,400.22 447.85,400.68 448.01,401.07 448.17,401.39 448.33,401.64 448.49,401.82 448.65,401.92 448.81,401.96 448.97,401.92 449.13,401.80 449.29,401.61 449.45,401.33 449.61,400.98 449.77,400.56 449.93,400.05 450.09,399.47 450.25,398.81 450.41,398.08 450.57,397.27 450.73,396.38 450.89,395.42 451.04,394.39 451.20,393.29 451.36,392.11 451.52,390.86 451.68,389.54 451.84,388.15 452.00,386.70 452.16,385.17 452.32,383.58 452.48,381.93 452.64,380.21 452.80,378.42 452.96,376.58 453.12,374.67 453.28,372.71 453.44,370.69 453.60,368.61 453.76,366.48 453.92,364.29 454.08,362.05 454.24,359.77 454.40,357.43 454.55,355.04 454.71,352.61 454.87,350.14 455.03,347.63 455.19,345.07 455.35,342.48 455.51,339.85 455.67,337.18 455.83,334.48 455.99,331.75 456.15,328.99 456.31,326.21 456.47,323.40 456.63,320.56 456.79,317.71 456.95,314.83 457.11,311.94 457.27,309.03 457.43,306.11 457.59,303.18 457.75,300.24 457.91,297.29 458.06,294.33 458.22,291.38 458.38,288.42 458.54,285.46 458.70,282.51 458.86,279.56 459.02,276.61 459.18,273.68 459.34,270.76 459.50,267.85 459.66,264.96 459.82,262.08 459.98,259.23 460.14,256.39 460.30,253.58 460.46,250.80 460.62,248.04 460.78,245.31 460.94,242.61 461.10,239.95 461.26,237.32 461.42,234.72 461.57,232.17 461.73,229.65 461.89,227.18 462.05,224.75 462.21,222.36 462.37,220.03 462.53,217.74 462.69,215.50 462.85,213.31 463.01,211.18 463.17,209.10 463.33,207.08 463.49,205.12 463.65,203.21 463.81,201.37 463.97,199.58 464.13,197.87 464.29,196.21 464.45,194.62 464.61,193.09 464.77,191.64 464.93,190.25 465.09,188.93 465.24,187.68 465.40,186.51 465.56,185.40 465.72,184.37 465.88,183.41 466.04,182.53 466.20,181.72 466.36,180.98 466.52,180.32 466.68,179.74 466.84,179.24 467.00,178.81 467.16,178.46 467.32,178.19 467.48,177.99 467.64,177.87 467.80,177.83 467.96,177.87 468.12,177.98 468.28,178.17 468.44,178.43 468.60,178.76 468.75,179.16 468.91,179.64 469.07,180.20 469.23,180.82 469.39,181.52 469.55,182.28 469.71,183.12 469.87,184.03 470.03,185.01 470.19,186.06 470.35,187.18 470.51,188.37 470.67,189.62 470.83,190.94 470.99,192.32 471.15,193.77 471.31,195.28 471.47,196.85 471.63,198.49 471.79,200.19 471.95,201.94 472.11,203.75 472.26,205.62 472.42,207.55 472.58,209.53 472.74,211.56 472.90,213.64 473.06,215.78 473.22,217.96 473.38,220.19 473.54,222.47 473.70,224.79 473.86,227.15 474.02,229.56 474.18,232.00 474.34,234.48 474.50,237.00 474.66,239.55 474.82,242.14 474.98,244.75 475.14,247.40 475.30,250.07 475.46,252.77 475.62,255.50 475.77,258.24 475.93,261.01 476.09,263.80 476.25,266.60 476.41,269.42 476.57,272.24 476.73,275.09 476.89,277.94 477.05,280.79 477.21,283.66 477.37,286.52 477.53,289.39 477.69,292.26 477.85,295.12 478.01,297.99 478.17,300.84 478.33,303.69 478.49,306.53 478.65,309.35 478.81,312.16 478.97,314.96 479.13,317.74 479.28,320.50 479.44,323.24 479.60,325.95 479.76,328.65 479.92,331.31 480.08,333.95 480.24,336.55 480.40,339.13 480.56,341.67 480.72,344.18 480.88,346.65 481.04,349.08 481.20,351.47 481.36,353.82 481.52,356.12 481.68,358.38 481.84,360.60 482.00,362.76 482.16,364.88 482.32,366.95 482.48,368.96 482.64,370.93 482.80,372.83 482.95,374.68 483.11,376.48 483.27,378.21 483.43,379.89 483.59,381.50 483.75,383.06 483.91,384.55 484.07,385.97 484.23,387.34 484.39,388.63 484.55,389.86 484.71,391.03 484.87,392.12 485.03,393.15 485.19,394.10 485.35,394.99 485.51,395.81 485.67,396.55 485.83,397.22 485.99,397.82 486.15,398.35 486.31,398.81 486.46,399.19 486.62,399.49 486.78,399.73 486.94,399.89 487.10,399.98 487.26,399.99 487.42,399.93 487.58,399.80 487.74,399.59 487.90,399.32 488.06,398.97 488.22,398.55 488.38,398.06 488.54,397.50 488.70,396.87 488.86,396.17 489.02,395.40 489.18,394.56 489.34,393.65 489.50,392.67 489.66,391.63 489.82,390.51 489.97,389.34 490.13,388.09 490.29,386.78 490.45,385.41 490.61,383.98 490.77,382.48 490.93,380.92 491.09,379.30 491.25,377.62 491.41,375.88 491.57,374.09 491.73,372.23 491.89,370.33 492.05,368.37 492.21,366.35 492.37,364.29 492.53,362.17 492.69,360.01 492.85,357.79 493.01,355.54 493.17,353.23 493.33,350.88 493.48,348.49 493.64,346.06 493.80,343.59 493.96,341.08 494.12,338.54 494.28,335.96 494.44,333.35 494.60,330.70 494.76,328.03 494.92,325.32 495.08,322.59 495.24,319.84 495.40,317.06 495.56,314.26 495.72,311.44 495.88,308.60 496.04,305.75 496.20,302.88 496.36,299.99 496.52,297.10 496.68,294.19 496.84,291.28 497.00,288.36 497.15,285.44 497.31,282.51 497.47,279.59 497.63,276.66 497.79,273.74 497.95,270.82 498.11,267.90 498.27,265.00 498.43,262.11 498.59,259.22 498.75,256.35 498.91,253.50 499.07,250.66 499.23,247.84 499.39,245.04 499.55,242.26 499.71,239.50 499.87,236.77 500.03,234.07 500.19,231.40 500.35,228.75 500.51,226.14 500.66,223.56 500.82,221.02 500.98,218.51 501.14,216.04 501.30,213.61 501.46,211.22 501.62,208.87 501.78,206.56 501.94,204.30 502.10,202.09 502.26,199.93 502.42,197.81 502.58,195.75 502.74,193.73 502.90,191.77 503.06,189.86 503.22,188.01 503.38,186.22 503.54,184.48 503.70,182.80 503.86,181.18 504.02,179.62 504.17,178.12 504.33,176.69 504.49,175.31 504.65,174.01 504.81,172.76 504.97,171.58 505.13,170.47 505.29,169.43 505.45,168.45 505.61,167.54 505.77,166.70 505.93,165.93 506.09,165.23 506.25,164.60 506.41,164.04 506.57,163.55 506.73,163.13 506.89,162.78 507.05,162.51 507.21,162.30 507.37,162.17 507.53,162.11 507.68,162.12 507.84,162.21 508.00,162.38 508.16,162.62 508.32,162.93 508.48,163.32 508.64,163.79 508.80,164.33 508.96,164.94 509.12,165.63 509.28,166.39 509.44,167.23 509.60,168.13 509.76,169.11 509.92,170.17 510.08,171.29 510.24,172.48 510.40,173.74 510.56,175.07 510.72,176.47 510.88,177.93 511.04,179.46 511.19,181.06 511.35,182.72 511.51,184.44 511.67,186.23 511.83,188.07 511.99,189.98 512.15,191.94 512.31,193.96 512.47,196.04 512.63,198.17 512.79,200.35 512.95,202.59 513.11,204.87 513.27,207.21 513.43,209.59 513.59,212.02 513.75,214.50 513.91,217.02 514.07,219.58 514.23,222.18 514.39,224.82 514.55,227.49 514.71,230.20 514.86,232.94 515.02,235.72 515.18,238.52 515.34,241.36 515.50,244.22 515.66,247.10 515.82,250.01 515.98,252.94 516.14,255.89 516.30,258.85 516.46,261.83 516.62,264.83 516.78,267.84 516.94,270.85 517.10,273.88 517.26,276.91 517.42,279.95 517.58,282.98 517.74,286.02 517.90,289.06 518.06,292.10 518.22,295.13 518.37,298.15 518.53,301.16 518.69,304.17 518.85,307.16 519.01,310.13 519.17,313.09 519.33,316.03 519.49,318.96 519.65,321.86 519.81,324.73 519.97,327.59 520.13,330.41 520.29,333.21 520.45,335.97 520.61,338.70 520.77,341.40 520.93,344.06 521.09,346.69 521.25,349.28 521.41,351.82 521.57,354.33 521.73,356.79 521.88,359.20 522.04,361.57 522.20,363.89 522.36,366.16 522.52,368.38 522.68,370.55 522.84,372.66 523.00,374.72 523.16,376.72 523.32,378.66 523.48,380.55 523.64,382.37 523.80,384.14 523.96,385.84 524.12,387.48 524.28,389.05 524.44,390.56 524.60,392.00 524.76,393.38 524.92,394.68 525.08,395.92 525.24,397.09 525.39,398.19 525.55,399.22 525.71,400.17 525.87,401.06 526.03,401.87 526.19,402.60 526.35,403.27 526.51,403.86 526.67,404.37 526.83,404.81 526.99,405.18 527.15,405.47 527.31,405.68 527.47,405.82 527.63,405.89 527.79,405.87 527.95,405.78 528.11,405.61 528.27,405.36 528.43,405.03 528.59,404.62 528.75,404.13 528.91,403.56 529.06,402.92 529.22,402.19 529.38,401.40 529.54,400.52 529.70,399.57 529.86,398.54 530.02,397.44 530.18,396.27 530.34,395.02 530.50,393.70 530.66,392.31 530.82,390.84 530.98,389.31 531.14,387.71 531.30,386.05 531.46,384.31 531.62,382.51 531.78,380.65 531.94,378.73 532.10,376.74 532.26,374.70 532.42,372.59 532.57,370.43 532.73,368.22 532.89,365.95 533.05,363.62 533.21,361.25 533.37,358.82 533.53,356.35 533.69,353.84 533.85,351.27 534.01,348.67 534.17,346.02 534.33,343.34 534.49,340.62 534.65,337.86 534.81,335.07 534.97,332.24 535.13,329.39 535.29,326.51 535.45,323.60 535.61,320.67 535.77,317.72 535.93,314.75 536.08,311.76 536.24,308.75 536.40,305.73 536.56,302.69 536.72,299.65 536.88,296.60 537.04,293.54 537.20,290.48 537.36,287.42 537.52,284.36 537.68,281.30 537.84,278.24 538.00,275.19 538.16,272.15 538.32,269.12 538.48,266.11 538.64,263.11 538.80,260.12 538.96,257.15 539.12,254.21 539.28,251.28 539.44,248.39 539.59,245.51 539.75,242.67 539.91,239.86 540.07,237.08 540.23,234.33 540.39,231.62 540.55,228.95 540.71,226.32 540.87,223.73 541.03,221.18 541.19,218.68 541.35,216.22 541.51,213.81 541.67,211.46 541.83,209.15 541.99,206.90 542.15,204.70 542.31,202.56 542.47,200.47 542.63,198.45 542.79,196.48 542.95,194.58 543.11,192.74 543.26,190.96 543.42,189.25 543.58,187.61 543.74,186.03 543.90,184.52 544.06,183.08 544.22,181.72 544.38,180.42 544.54,179.19 544.70,178.04 544.86,176.97 545.02,175.97 545.18,175.04 545.34,174.19 545.50,173.42 545.66,172.72 545.82,172.10 545.98,171.56 546.14,171.10 546.30,170.72 546.46,170.41 546.62,170.19 546.77,170.04 546.93,169.97 547.09,169.99 547.25,170.08 547.41,170.24 547.57,170.49 547.73,170.81 547.89,171.21 548.05,171.68 548.21,172.24 548.37,172.86 548.53,173.56 548.69,174.34 548.85,175.19 549.01,176.12 549.17,177.12 549.33,178.19 549.49,179.33 549.65,180.55 549.81,181.83 549.97,183.19 550.13,184.61 550.28,186.10 550.44,187.65 550.60,189.28 550.76,190.96 550.92,192.71 551.08,194.53 551.24,196.40 551.40,198.33 551.56,200.32 551.72,202.37 551.88,204.48 552.04,206.63 552.20,208.84 552.36,211.11 552.52,213.42 552.68,215.78 552.84,218.19 553.00,220.64 553.16,223.14 553.32,225.68 553.48,228.26 553.64,230.87 553.79,233.53 553.95,236.22 554.11,238.94 554.27,241.69 554.43,244.47 554.59,247.28 554.75,250.12 554.91,252.98 555.07,255.86 555.23,258.76 555.39,261.68 555.55,264.62 555.71,267.57 555.87,270.54 556.03,273.51 556.19,276.49 556.35,279.48 556.51,282.47 556.67,285.46 556.83,288.46 556.99,291.45 557.15,294.44 557.30,297.43 557.46,300.40 557.62,303.37 557.78,306.32 557.94,309.27 558.10,312.19 558.26,315.10 558.42,317.99 558.58,320.86 558.74,323.70 558.90,326.52 559.06,329.31 559.22,332.08 559.38,334.81 559.54,337.51 559.70,340.17 559.86,342.80 560.02,345.40 560.18,347.95 560.34,350.46 560.50,352.93 560.66,355.35 560.82,357.73 560.97,360.06 561.13,362.33 561.29,364.56 561.45,366.74 561.61,368.86 561.77,370.93 561.93,372.94 562.09,374.89 562.25,376.78 562.41,378.62 562.57,380.39 562.73,382.10 562.89,383.74 563.05,385.32 563.21,386.83 563.37,388.28 563.53,389.65 563.69,390.96 563.85,392.20 564.01,393.37 564.17,394.46 564.33,395.48 564.48,396.43 564.64,397.31 564.80,398.11 564.96,398.84 565.12,399.49 565.28,400.07 565.44,400.57 565.60,400.99 565.76,401.34 565.92,401.61 566.08,401.80 566.24,401.92 566.40,401.96 566.56,401.92 566.72,401.81 566.88,401.62 567.04,401.36 567.20,401.03 567.36,400.62 567.52,400.13 567.68,399.58 567.84,398.95 567.99,398.25 568.15,397.47 568.31,396.62 568.47,395.71 568.63,394.72 568.79,393.66 568.95,392.53 569.11,391.33 569.27,390.07 569.43,388.73 569.59,387.33 569.75,385.87 569.91,384.34 570.07,382.74 570.23,381.08 570.39,379.36 570.55,377.58 570.71,375.74 570.87,373.84 571.03,371.89 571.19,369.87 571.35,367.80 571.50,365.68 571.66,363.51 571.82,361.28 571.98,359.00 572.14,356.67 572.30,354.30 572.46,351.88 572.62,349.42 572.78,346.91 572.94,344.36 573.10,341.78 573.26,339.15 573.42,336.49 573.58,333.79 573.74,331.06 573.90,328.29 574.06,325.50 574.22,322.68 574.38,319.83 574.54,316.95 574.70,314.05 574.86,311.13 575.01,308.20 575.17,305.24 575.33,302.26 575.49,299.27 575.65,296.27 575.81,293.26 575.97,290.24 576.13,287.21 576.29,284.18 576.45,281.14 576.61,278.10 576.77,275.06 576.93,272.02 577.09,268.99 577.25,265.96 577.41,262.94 577.57,259.93 577.73,256.93 577.89,253.94 578.05,250.96 578.21,248.00 578.37,245.07 578.53,242.15 578.68,239.25 578.84,236.37 579.00,233.52 579.16,230.70 579.32,227.91 579.48,225.14 579.64,222.41 579.80,219.71 579.96,217.05 580.12,214.42 580.28,211.84 580.44,209.29 580.60,206.78 580.76,204.32 580.92,201.90 581.08,199.53 581.24,197.20 581.40,194.92 581.56,192.69 581.72,190.52 581.88,188.40 582.04,186.33 582.19,184.31 582.35,182.36 582.51,180.46 582.67,178.62 582.83,176.84 582.99,175.12 583.15,173.46 583.31,171.86 583.47,170.33 583.63,168.87 583.79,167.47 583.95,166.13 584.11,164.87 584.27,163.67 584.43,162.54 584.59,161.48 584.75,160.49 584.91,159.58 585.07,158.73 585.23,157.95 585.39,157.25 585.55,156.62 585.70,156.07 585.86,155.58 586.02,155.17 586.18,154.84 586.34,154.58 586.50,154.39 586.66,154.28 586.82,154.24 586.98,154.28 587.14,154.40 587.30,154.60 587.46,154.88 587.62,155.23 587.78,155.67 587.94,156.18 588.10,156.77 588.26,157.44 588.42,158.19 588.58,159.01 588.74,159.91 588.90,160.88 589.06,161.93 589.21,163.06 589.37,164.25 589.53,165.52 589.69,166.87 589.85,168.28 590.01,169.76 590.17,171.32 590.33,172.94 590.49,174.63 590.65,176.39 590.81,178.21 590.97,180.09 591.13,182.04 591.29,184.05 591.45,186.12 591.61,188.25 591.77,190.44 591.93,192.68 592.09,194.98 592.25,197.33 592.41,199.73 592.57,202.19 592.73,204.69 592.88,207.24 593.04,209.83 593.20,212.47 593.36,215.16 593.52,217.88 593.68,220.64 593.84,223.44 594.00,226.27 594.16,229.14 594.32,232.04 594.48,234.96 594.64,237.92 594.80,240.90 594.96,243.91 595.12,246.94 595.28,249.99 595.44,253.06 595.60,256.14 595.76,259.24 595.92,262.35 596.08,265.48 596.24,268.61 596.39,271.75 596.55,274.89 596.71,278.03 596.87,281.18 597.03,284.32 597.19,287.47 597.35,290.60 597.51,293.73 597.67,296.85 597.83,299.96 597.99,303.05 598.15,306.13 598.31,309.19 598.47,312.24 598.63,315.26 598.79,318.26 598.95,321.23 599.11,324.18 599.27,327.10 599.43,329.99 599.59,332.84 599.75,335.67 599.90,338.45 600.06,341.20 600.22,343.91 600.38,346.58 600.54,349.20 600.70,351.78 600.86,354.32 601.02,356.80 601.18,359.24 601.34,361.63 601.50,363.96 601.66,366.24 601.82,368.46 601.98,370.63 602.14,372.74 602.30,374.79 602.46,376.78 602.62,378.71 602.78,380.57 602.94,382.37 603.10,384.11 603.26,385.77 603.41,387.37 603.57,388.90 603.73,390.36 603.89,391.76 604.05,393.07 604.21,394.32 604.37,395.49 604.53,396.59 604.69,397.62 604.85,398.57 605.01,399.44 605.17,400.24 605.33,400.96 605.49,401.60 605.65,402.17 605.81,402.65 605.97,403.06 606.13,403.39 606.29,403.64 606.45,403.81 606.61,403.91 606.77,403.92 606.92,403.85 607.08,403.71 607.24,403.48 607.40,403.18 607.56,402.80 607.72,402.34 607.88,401.80 608.04,401.18 608.20,400.49 608.36,399.71 608.52,398.87 608.68,397.94 608.84,396.94 609.00,395.87 609.16,394.72 609.32,393.50 609.48,392.20 609.64,390.84 609.80,389.40 609.96,387.89 610.12,386.32 610.28,384.67 610.44,382.96 610.59,381.19 610.75,379.34 610.91,377.44 611.07,375.47 611.23,373.45 611.39,371.36 611.55,369.21 611.71,367.01 611.87,364.75 612.03,362.44 612.19,360.08 612.35,357.66 612.51,355.20 612.67,352.68 612.83,350.12 612.99,347.52 613.15,344.87 613.31,342.19 613.47,339.46 613.63,336.69 613.79,333.89 613.95,331.06 614.10,328.19 614.26,325.29 614.42,322.37 614.58,319.42 614.74,316.44 614.90,313.44 615.06,310.42 615.22,307.38 615.38,304.32 615.54,301.25 615.70,298.16 615.86,295.07 616.02,291.96 616.18,288.85 616.34,285.73 616.50,282.61 616.66,279.49 616.82,276.37 616.98,273.25 617.14,270.14 617.30,267.03 617.46,263.94 617.61,260.85 617.77,257.78 617.93,254.72 618.09,251.68 618.25,248.66 618.41,245.66 618.57,242.68 618.73,239.73 618.89,236.80 619.05,233.91 619.21,231.04 619.37,228.20 619.53,225.40 619.69,222.64 619.85,219.91 620.01,217.22 620.17,214.58 620.33,211.97 620.49,209.42 620.65,206.90 620.81,204.44 620.97,202.02 621.12,199.66 621.28,197.35 621.44,195.09 621.60,192.89 621.76,190.74 621.92,188.65 622.08,186.62 622.24,184.66 622.40,182.75 622.56,180.91 622.72,179.14 622.88,177.43 623.04,175.78 623.20,174.21 623.36,172.70 623.52,171.26 623.68,169.89 623.84,168.60 624.00,167.38 624.16,166.23 624.32,165.16 624.48,164.16 624.64,163.23 624.79,162.38 624.95,161.61 625.11,160.92 625.27,160.30 625.43,159.76 625.59,159.30 625.75,158.92 625.91,158.61 626.07,158.39 626.23,158.24 626.39,158.18 626.55,158.19 626.71,158.29 626.87,158.47 627.03,158.72 627.19,159.07 627.35,159.49 627.51,159.99 627.67,160.57 627.83,161.24 627.99,161.98 628.15,162.81 628.30,163.71 628.46,164.69 628.62,165.75 628.78,166.88 628.94,168.09 629.10,169.38 629.26,170.74 629.42,172.17 629.58,173.68 629.74,175.26 629.90,176.91 630.06,178.63 630.22,180.41 630.38,182.27 630.54,184.19 630.70,186.17 630.86,188.22 631.02,190.33 631.18,192.50 631.34,194.73 631.50,197.01 631.66,199.35 631.81,201.75 631.97,204.20 632.13,206.70 632.29,209.25 632.45,211.85 632.61,214.50 632.77,217.19 632.93,219.92 633.09,222.69 633.25,225.50 633.41,228.35 633.57,231.23 633.73,234.15 633.89,237.10 634.05,240.07 634.21,243.08 634.37,246.11 634.53,249.16 634.69,252.24 634.85,255.33 635.01,258.44 635.17,261.57 635.32,264.70 635.48,267.85 635.64,271.01 635.80,274.18 635.96,277.35 636.12,280.52 636.28,283.69 636.44,286.86 636.60,290.03 636.76,293.19 636.92,296.34 637.08,299.49 637.24,302.62 637.40,305.73 637.56,308.83 637.72,311.91 637.88,314.97 638.04,318.01 638.20,321.03 638.36,324.01 638.52,326.97 638.68,329.90 638.83,332.79 638.99,335.65 639.15,338.48 639.31,341.26 639.47,344.01 639.63,346.71 639.79,349.37 639.95,351.98 640.11,354.55 640.27,357.07 640.43,359.54 640.59,361.95 640.75,364.31 640.91,366.62 641.07,368.86 641.23,371.05 641.39,373.18 641.55,375.25 641.71,377.26 641.87,379.20 642.03,381.07 642.19,382.88 642.35,384.63 642.50,386.30 642.66,387.90 642.82,389.43 642.98,390.89 643.14,392.27 643.30,393.59 643.46,394.82 643.62,395.98 643.78,397.07 643.94,398.07 644.10,399.00 644.26,399.85 644.42,400.62 644.58,401.31 644.74,401.92 644.90,402.45 645.06,402.90 645.22,403.27 645.38,403.56 645.54,403.76 645.70,403.88 645.86,403.92 646.01,403.89 646.17,403.77 646.33,403.58 646.49,403.31 646.65,402.96 646.81,402.54 646.97,402.04 647.13,401.46 647.29,400.81 647.45,400.08 647.61,399.28 647.77,398.41 647.93,397.46 648.09,396.44 648.25,395.34 648.41,394.17 648.57,392.93 648.73,391.62 648.89,390.24 649.05,388.80 649.21,387.28 649.37,385.70 649.52,384.05 649.68,382.33 649.84,380.55 650.00,378.71 650.16,376.80 650.32,374.84 650.48,372.81 650.64,370.73 650.80,368.59 650.96,366.39 651.12,364.14 651.28,361.84 651.44,359.48 651.60,357.07 651.76,354.62 651.92,352.11 652.08,349.56 652.24,346.97 652.40,344.33 652.56,341.65 652.72,338.93 652.88,336.17 653.03,333.38 653.19,330.55 653.35,327.69 653.51,324.79 653.67,321.87 653.83,318.92 653.99,315.94 654.15,312.94 654.31,309.92 654.47,306.87 654.63,303.81 654.79,300.72 654.95,297.63 655.11,294.52 655.27,291.39 655.43,288.26 655.59,285.12 655.75,281.98 655.91,278.83 656.07,275.68 656.23,272.52 656.39,269.37 656.55,266.23 656.70,263.08 656.86,259.95 657.02,256.82 657.18,253.71 657.34,250.61 657.50,247.52 657.66,244.45 657.82,241.40 657.98,238.37 658.14,235.36 658.30,232.37 658.46,229.41 658.62,226.48 658.78,223.58 658.94,220.70 659.10,217.86 659.26,215.06 659.42,212.29 659.58,209.55 659.74,206.86 659.90,204.21 660.06,201.60 660.21,199.04 660.37,196.52 660.53,194.04 660.69,191.62 660.85,189.25 661.01,186.92 661.17,184.65 661.33,182.44 661.49,180.28 661.65,178.18 661.81,176.13 661.97,174.15 662.13,172.22 662.29,170.36 662.45,168.56 662.61,166.82 662.77,165.15 662.93,163.54 663.09,162.00 663.25,160.53 663.41,159.13 663.57,157.80 663.72,156.54 663.88,155.34 664.04,154.22 664.20,153.18 664.36,152.20 664.52,151.30 664.68,150.48 664.84,149.72 665.00,149.05 665.16,148.45 665.32,147.92 665.48,147.47 665.64,147.10 665.80,146.81 665.96,146.59 666.12,146.45 666.28,146.38 666.44,146.40 666.60,146.49 666.76,146.67 666.92,146.93 667.08,147.28 667.23,147.71 667.39,148.22 667.55,148.81 667.71,149.48 667.87,150.23 668.03,151.07 668.19,151.98 668.35,152.97 668.51,154.04 668.67,155.19 668.83,156.42 668.99,157.72 669.15,159.10 669.31,160.55 669.47,162.08 669.63,163.68 669.79,165.35 669.95,167.09 670.11,168.90 670.27,170.78 670.43,172.73 670.59,174.74 670.75,176.82 670.90,178.96 671.06,181.16 671.22,183.42 671.38,185.75 671.54,188.12 671.70,190.56 671.86,193.05 672.02,195.59 672.18,198.18 672.34,200.82 672.50,203.51 672.66,206.25 672.82,209.02 672.98,211.85 673.14,214.71 673.30,217.61 673.46,220.54 673.62,223.52 673.78,226.52 673.94,229.56 674.10,232.62 674.26,235.71 674.41,238.83 674.57,241.97 674.73,245.13 674.89,248.31 675.05,251.50 675.21,254.71 675.37,257.94 675.53,261.17 675.69,264.41 675.85,267.66 676.01,270.91 676.17,274.17 676.33,277.42 676.49,280.68 676.65,283.92 676.81,287.17 676.97,290.40 677.13,293.62 677.29,296.83 677.45,300.03 677.61,303.21 677.77,306.37 677.92,309.51 678.08,312.62 678.24,315.72 678.40,318.78 678.56,321.82 678.72,324.82 678.88,327.79 679.04,330.73 679.20,333.63 679.36,336.49 679.52,339.31 679.68,342.09 679.84,344.83 680.00,347.51 680.16,350.16 680.32,352.75 680.48,355.29 680.64,357.78 680.80,360.21 680.96,362.59 681.12,364.91 681.28,367.17 681.43,369.38 681.59,371.52 681.75,373.59 681.91,375.61 682.07,377.55 682.23,379.43 682.39,381.24 682.55,382.98 682.71,384.66 682.87,386.26 683.03,387.78 683.19,389.24 683.35,390.61 683.51,391.92 683.67,393.14 683.83,394.29 683.99,395.36 684.15,396.36 684.31,397.27 684.47,398.10 684.63,398.86 684.79,399.53 684.94,400.12 685.10,400.63 685.26,401.06 685.42,401.40 685.58,401.66 685.74,401.84 685.90,401.94 686.06,401.95 686.22,401.88 686.38,401.73 686.54,401.50 686.70,401.19 686.86,400.79 687.02,400.31 687.18,399.76 687.34,399.12 687.50,398.40 687.66,397.60 687.82,396.72 687.98,395.76 688.14,394.73 688.30,393.61 688.46,392.43 688.61,391.16 688.77,389.82 688.93,388.41 689.09,386.92 689.25,385.36 689.41,383.73 689.57,382.03 689.73,380.27 689.89,378.43 690.05,376.53 690.21,374.56 690.37,372.53 690.53,370.44 690.69,368.28 690.85,366.07 691.01,363.80 691.17,361.47 691.33,359.09 691.49,356.65 691.65,354.16 691.81,351.63 691.97,349.04 692.12,346.41 692.28,343.73 692.44,341.01 692.60,338.25 692.76,335.45 692.92,332.61 693.08,329.74 693.24,326.83 693.40,323.90 693.56,320.93 693.72,317.93 693.88,314.91 694.04,311.87 694.20,308.80 694.36,305.72 694.52,302.62 694.68,299.50 694.84,296.37 695.00,293.23 695.16,290.08 695.32,286.92 695.48,283.76 695.63,280.59 695.79,277.43 695.95,274.27 696.11,271.11 696.27,267.95 696.43,264.81 696.59,261.68 696.75,258.55 696.91,255.45 697.07,252.36 697.23,249.28 697.39,246.23 697.55,243.20 697.71,240.20 697.87,237.22 698.03,234.27 698.19,231.36 698.35,228.47 698.51,225.62 698.67,222.81 698.83,220.04 698.99,217.30 699.14,214.61 699.30,211.96 699.46,209.36 699.62,206.81 699.78,204.30 699.94,201.85 700.10,199.45 700.26,197.10 700.42,194.81 700.58,192.58 700.74,190.41 700.90,188.29 701.06,186.24 701.22,184.25 701.38,182.33 701.54,180.47 701.70,178.68 701.86,176.96 702.02,175.30 702.18,173.72 702.34,172.21 702.50,170.77 702.65,169.41 702.65,431.8" fill="#a0b0ff"/>
<polygon points="393.4,295.3 403.0,295.3 398.2,302.7" fill="#ffff40" stroke="#6a4a10" stroke-width="0.8" stroke-linejoin="round"/>
<g class="lb">
<circle cx="112.32" cy="168.00" r="1.9" fill="#000"/>
<text x="112.32" y="146.40" font-size="9.5" text-anchor="middle" fill="#222">8:00 pm</text>
<text x="112.32" y="154.80" font-size="9.5" text-anchor="middle" fill="#222">5.1 ft</text>
<text x="112.32" y="164.70" font-size="9.5" text-anchor="middle" fill="#222">1.56 m</text>
<circle cx="133.70" cy="366.57" r="1.9" fill="#000"/>
<text x="133.70" y="376.87" font-size="9.5" text-anchor="middle" fill="#222">0.55 m</text>
<text x="133.70" y="387.77" font-size="9.5" text-anchor="middle" fill="#222">1.8 ft</text>
<text x="133.70" y="396.07" font-size="9.5" text-anchor="middle" fill="#222">2:42 am</text>
<circle cx="152.42" cy="187.66" r="1.9" fill="#000"/>
<text x="152.42" y="166.06" font-size="9.5" text-anchor="middle" fill="#222">8:34 am</text>
<text x="152.42" y="174.46" font-size="9.5" text-anchor="middle" fill="#222">4.8 ft</text>
<text x="152.42" y="184.36" font-size="9.5" text-anchor="middle" fill="#222">1.46 m</text>
<circle cx="171.46" cy="362.64" r="1.9" fill="#000"/>
<text x="171.46" y="372.94" font-size="9.5" text-anchor="middle" fill="#222">0.57 m</text>
<text x="171.46" y="383.84" font-size="9.5" text-anchor="middle" fill="#222">1.9 ft</text>
<text x="171.46" y="392.14" font-size="9.5" text-anchor="middle" fill="#222">2:32 pm</text>
<circle cx="191.19" cy="168.00" r="1.9" fill="#000"/>
<text x="191.19" y="146.40" font-size="9.5" text-anchor="middle" fill="#222">8:43 pm</text>
<text x="191.19" y="154.80" font-size="9.5" text-anchor="middle" fill="#222">5.1 ft</text>
<text x="191.19" y="164.70" font-size="9.5" text-anchor="middle" fill="#222">1.56 m</text>
<circle cx="212.52" cy="378.37" r="1.9" fill="#000"/>
<text x="212.52" y="388.67" font-size="9.5" text-anchor="middle" fill="#222">0.49 m</text>
<text x="212.52" y="399.57" font-size="9.5" text-anchor="middle" fill="#222">1.6 ft</text>
<text x="212.52" y="407.87" font-size="9.5" text-anchor="middle" fill="#222">3:24 am</text>
<circle cx="231.24" cy="187.66" r="1.9" fill="#000"/>
<text x="231.24" y="166.06" font-size="9.5" text-anchor="middle" fill="#222">9:16 am</text>
<text x="231.24" y="174.46" font-size="9.5" text-anchor="middle" fill="#222">4.8 ft</text>
<text x="231.24" y="184.36" font-size="9.5" text-anchor="middle" fill="#222">1.46 m</text>
<circle cx="250.33" cy="372.47" r="1.9" fill="#000"/>
<text x="250.33" y="382.77" font-size="9.5" text-anchor="middle" fill="#222">0.52 m</text>
<text x="250.33" y="393.67" font-size="9.5" text-anchor="middle" fill="#222">1.7 ft</text>
<text x="250.33" y="401.97" font-size="9.5" text-anchor="middle" fill="#222">3:15 pm</text>
<circle cx="270.22" cy="169.97" r="1.9" fill="#000"/>
<text x="270.22" y="148.37" font-size="9.5" text-anchor="middle" fill="#222">9:29 pm</text>
<text x="270.22" y="156.77" font-size="9.5" text-anchor="middle" fill="#222">5.1 ft</text>
<text x="270.22" y="166.67" font-size="9.5" text-anchor="middle" fill="#222">1.55 m</text>
<circle cx="291.28" cy="390.16" r="1.9" fill="#000"/>
<text x="291.28" y="400.46" font-size="9.5" text-anchor="middle" fill="#222">0.43 m</text>
<text x="291.28" y="411.36" font-size="9.5" text-anchor="middle" fill="#222">1.4 ft</text>
<text x="291.28" y="419.66" font-size="9.5" text-anchor="middle" fill="#222">4:05 am</text>
<circle cx="310.06" cy="185.70" r="1.9" fill="#000"/>
<text x="310.06" y="164.10" font-size="9.5" text-anchor="middle" fill="#222">9:58 am</text>
<text x="310.06" y="172.50" font-size="9.5" text-anchor="middle" fill="#222">4.8 ft</text>
<text x="310.06" y="182.40" font-size="9.5" text-anchor="middle" fill="#222">1.47 m</text>
<circle cx="329.25" cy="384.26" r="1.9" fill="#000"/>
<text x="329.25" y="394.56" font-size="9.5" text-anchor="middle" fill="#222">0.46 m</text>
<text x="329.25" y="405.46" font-size="9.5" text-anchor="middle" fill="#222">1.5 ft</text>
<text x="329.25" y="413.76" font-size="9.5" text-anchor="middle" fill="#222">3:59 pm</text>
<circle cx="349.25" cy="169.97" r="1.9" fill="#000"/>
<text x="349.25" y="148.37" font-size="9.5" text-anchor="middle" fill="#222">10:15 pm</text>
<text x="349.25" y="156.77" font-size="9.5" text-anchor="middle" fill="#222">5.1 ft</text>
<text x="349.25" y="166.67" font-size="9.5" text-anchor="middle" fill="#222">1.55 m</text>
<circle cx="369.99" cy="396.06" r="1.9" fill="#000"/>
<text x="369.99" y="406.36" font-size="9.5" text-anchor="middle" fill="#222">0.40 m</text>
<text x="369.99" y="417.26" font-size="9.5" text-anchor="middle" fill="#222">1.3 ft</text>
<text x="369.99" y="425.56" font-size="9.5" text-anchor="middle" fill="#222">4:45 am</text>
<circle cx="388.82" cy="183.73" r="1.9" fill="#000"/>
<text x="388.82" y="162.13" font-size="9.5" text-anchor="middle" fill="#222">10:39 am</text>
<text x="388.82" y="170.53" font-size="9.5" text-anchor="middle" fill="#222">4.9 ft</text>
<text x="388.82" y="180.43" font-size="9.5" text-anchor="middle" fill="#222">1.48 m</text>
<circle cx="408.18" cy="392.13" r="1.9" fill="#000"/>
<text x="408.18" y="402.43" font-size="9.5" text-anchor="middle" fill="#222">0.42 m</text>
<text x="408.18" y="413.33" font-size="9.5" text-anchor="middle" fill="#222">1.4 ft</text>
<text x="408.18" y="421.63" font-size="9.5" text-anchor="middle" fill="#222">4:43 pm</text>
<circle cx="428.39" cy="166.04" r="1.9" fill="#000"/>
<text x="428.39" y="144.44" font-size="9.5" text-anchor="middle" fill="#222">11:03 pm</text>
<text x="428.39" y="152.84" font-size="9.5" text-anchor="middle" fill="#222">5.2 ft</text>
<text x="428.39" y="162.74" font-size="9.5" text-anchor="middle" fill="#222">1.57 m</text>
<circle cx="448.81" cy="401.96" r="1.9" fill="#000"/>
<text x="448.81" y="412.26" font-size="9.5" text-anchor="middle" fill="#222">0.37 m</text>
<text x="448.81" y="423.16" font-size="9.5" text-anchor="middle" fill="#222">1.2 ft</text>
<text x="448.81" y="431.46" font-size="9.5" text-anchor="middle" fill="#222">5:27 am</text>
<circle cx="467.80" cy="177.83" r="1.9" fill="#000"/>
<text x="467.80" y="156.23" font-size="9.5" text-anchor="middle" fill="#222">11:24 am</text>
<text x="467.80" y="164.63" font-size="9.5" text-anchor="middle" fill="#222">5.0 ft</text>
<text x="467.80" y="174.53" font-size="9.5" text-anchor="middle" fill="#222">1.51 m</text>
<circle cx="487.21" cy="399.99" r="1.9" fill="#000"/>
<text x="487.21" y="410.29" font-size="9.5" text-anchor="middle" fill="#222">0.38 m</text>
<text x="487.21" y="421.19" font-size="9.5" text-anchor="middle" fill="#222">1.2 ft</text>
<text x="487.21" y="429.49" font-size="9.5" text-anchor="middle" fill="#222">5:29 pm</text>
<circle cx="507.58" cy="162.11" r="1.9" fill="#000"/>
<text x="507.58" y="140.51" font-size="9.5" text-anchor="middle" fill="#222">11:52 pm</text>
<text x="507.58" y="148.91" font-size="9.5" text-anchor="middle" fill="#222">5.2 ft</text>
<text x="507.58" y="158.81" font-size="9.5" text-anchor="middle" fill="#222">1.59 m</text>
<circle cx="527.68" cy="405.89" r="1.9" fill="#000"/>
<text x="527.68" y="416.19" font-size="9.5" text-anchor="middle" fill="#222">0.35 m</text>
<text x="527.68" y="427.09" font-size="9.5" text-anchor="middle" fill="#222">1.1 ft</text>
<text x="527.68" y="435.39" font-size="9.5" text-anchor="middle" fill="#222">6:10 am</text>
<circle cx="546.99" cy="169.97" r="1.9" fill="#000"/>
<text x="546.99" y="148.37" font-size="9.5" text-anchor="middle" fill="#222">12:13 pm</text>
<text x="546.99" y="156.77" font-size="9.5" text-anchor="middle" fill="#222">5.1 ft</text>
<text x="546.99" y="166.67" font-size="9.5" text-anchor="middle" fill="#222">1.55 m</text>
<circle cx="566.40" cy="401.96" r="1.9" fill="#000"/>
<text x="566.40" y="412.26" font-size="9.5" text-anchor="middle" fill="#222">0.37 m</text>
<text x="566.40" y="423.16" font-size="9.5" text-anchor="middle" fill="#222">1.2 ft</text>
<text x="566.40" y="431.46" font-size="9.5" text-anchor="middle" fill="#222">6:18 pm</text>
<circle cx="586.82" cy="154.24" r="1.9" fill="#000"/>
<text x="586.82" y="132.64" font-size="9.5" text-anchor="middle" fill="#222">12:42 am</text>
<text x="586.82" y="141.04" font-size="9.5" text-anchor="middle" fill="#222">5.3 ft</text>
<text x="586.82" y="150.94" font-size="9.5" text-anchor="middle" fill="#222">1.63 m</text>
<circle cx="606.71" cy="403.92" r="1.9" fill="#000"/>
<text x="606.71" y="414.22" font-size="9.5" text-anchor="middle" fill="#222">0.36 m</text>
<text x="606.71" y="425.12" font-size="9.5" text-anchor="middle" fill="#222">1.2 ft</text>
<text x="606.71" y="433.42" font-size="9.5" text-anchor="middle" fill="#222">6:56 am</text>
<circle cx="626.44" cy="158.17" r="1.9" fill="#000"/>
<text x="626.44" y="136.57" font-size="9.5" text-anchor="middle" fill="#222">1:07 pm</text>
<text x="626.44" y="144.97" font-size="9.5" text-anchor="middle" fill="#222">5.3 ft</text>
<text x="626.44" y="154.87" font-size="9.5" text-anchor="middle" fill="#222">1.61 m</text>
<circle cx="645.86" cy="403.92" r="1.9" fill="#000"/>
<text x="645.86" y="414.22" font-size="9.5" text-anchor="middle" fill="#222">0.36 m</text>
<text x="645.86" y="425.12" font-size="9.5" text-anchor="middle" fill="#222">1.2 ft</text>
<text x="645.86" y="433.42" font-size="9.5" text-anchor="middle" fill="#222">7:12 pm</text>
<circle cx="666.33" cy="146.38" r="1.9" fill="#000"/>
<text x="666.33" y="124.78" font-size="9.5" text-anchor="middle" fill="#222">1:37 am</text>
<text x="666.33" y="133.18" font-size="9.5" text-anchor="middle" fill="#222">5.5 ft</text>
<text x="666.33" y="143.08" font-size="9.5" text-anchor="middle" fill="#222">1.67 m</text>
<circle cx="686.01" cy="401.96" r="1.9" fill="#000"/>
<text x="686.01" y="412.26" font-size="9.5" text-anchor="middle" fill="#222">0.37 m</text>
<text x="686.01" y="423.16" font-size="9.5" text-anchor="middle" fill="#222">1.2 ft</text>
<text x="686.01" y="431.46" font-size="9.5" text-anchor="middle" fill="#222">7:47 am</text>
</g>
<g class="lb">
<line x1="49" y1="57.4" x2="49" y2="465.2" stroke="#000" stroke-width="2"/>
<line x1="46" y1="455.04" x2="49" y2="455.04" stroke="#000" stroke-width="1"/>
<line x1="46" y1="435.38" x2="49" y2="435.38" stroke="#000" stroke-width="1"/>
<line x1="46" y1="415.72" x2="49" y2="415.72" stroke="#000" stroke-width="1"/>
<line x1="46" y1="396.06" x2="49" y2="396.06" stroke="#000" stroke-width="1"/>
<line x1="42" y1="376.40" x2="49" y2="376.40" stroke="#000" stroke-width="1"/>
<text x="35.3" y="380.80" font-size="12" text-anchor="end" fill="#111">0.5 m</text>
<line x1="46" y1="356.74" x2="49" y2="356.74" stroke="#000" stroke-width="1"/>
<line x1="46" y1="337.08" x2="49" y2="337.08" stroke="#000" stroke-width="1"/>
<line x1="46" y1="317.42" x2="49" y2="317.42" stroke="#000" stroke-width="1"/>
<line x1="46" y1="297.76" x2="49" y2="297.76" stroke="#000" stroke-width="1"/>
<line x1="42" y1="278.10" x2="49" y2="278.10" stroke="#000" stroke-width="1"/>
<text x="35.3" y="282.50" font-size="12" text-anchor="end" fill="#111">1.0 m</text>
<line x1="46" y1="258.44" x2="49" y2="258.44" stroke="#000" stroke-width="1"/>
<line x1="46" y1="238.78" x2="49" y2="238.78" stroke="#000" stroke-width="1"/>
<line x1="46" y1="219.12" x2="49" y2="219.12" stroke="#000" stroke-width="1"/>
<line x1="46" y1="199.46" x2="49" y2="199.46" stroke="#000" stroke-width="1"/>
<line x1="42" y1="179.80" x2="49" y2="179.80" stroke="#000" stroke-width="1"/>
<text x="35.3" y="184.20" font-size="12" text-anchor="end" fill="#111">1.5 m</text>
<line x1="46" y1="160.14" x2="49" y2="160.14" stroke="#000" stroke-width="1"/>
<line x1="46" y1="140.48" x2="49" y2="140.48" stroke="#000" stroke-width="1"/>
<line x1="46" y1="120.82" x2="49" y2="120.82" stroke="#000" stroke-width="1"/>
<line x1="46" y1="101.16" x2="49" y2="101.16" stroke="#000" stroke-width="1"/>
<line x1="42" y1="81.50" x2="49" y2="81.50" stroke="#000" stroke-width="1"/>
<text x="35.3" y="85.90" font-size="12" text-anchor="end" fill="#111">2.0 m</text>
<line x1="46" y1="61.84" x2="49" y2="61.84" stroke="#000" stroke-width="1"/>
<line x1="743.3" y1="59.20" x2="743.3" y2="465.2" stroke="#000" stroke-width="2"/>
<line x1="743" y1="465.18" x2="747" y2="465.18" stroke="#000" stroke-width="1"/>
<line x1="743" y1="453.26" x2="747" y2="453.26" stroke="#000" stroke-width="1"/>
<line x1="743" y1="441.33" x2="747" y2="441.33" stroke="#000" stroke-width="1"/>
<line x1="743" y1="429.41" x2="747" y2="429.41" stroke="#000" stroke-width="1"/>
<line x1="743" y1="417.48" x2="750" y2="417.48" stroke="#000" stroke-width="1"/>
<text x="757.3" y="421.88" font-size="12" fill="#111">1 ft</text>
<line x1="743" y1="405.55" x2="747" y2="405.55" stroke="#000" stroke-width="1"/>
<line x1="743" y1="393.63" x2="747" y2="393.63" stroke="#000" stroke-width="1"/>
<line x1="743" y1="381.70" x2="747" y2="381.70" stroke="#000" stroke-width="1"/>
<line x1="743" y1="369.78" x2="747" y2="369.78" stroke="#000" stroke-width="1"/>
<line x1="743" y1="357.85" x2="750" y2="357.85" stroke="#000" stroke-width="1"/>
<text x="757.3" y="362.25" font-size="12" fill="#111">2 ft</text>
<line x1="743" y1="345.92" x2="747" y2="345.92" stroke="#000" stroke-width="1"/>
<line x1="743" y1="334.00" x2="747" y2="334.00" stroke="#000" stroke-width="1"/>
<line x1="743" y1="322.07" x2="747" y2="322.07" stroke="#000" stroke-width="1"/>
<line x1="743" y1="310.15" x2="747" y2="310.15" stroke="#000" stroke-width="1"/>
<line x1="743" y1="298.22" x2="750" y2="298.22" stroke="#000" stroke-width="1"/>
<text x="757.3" y="302.62" font-size="12" fill="#111">3 ft</text>
<line x1="743" y1="286.29" x2="747" y2="286.29" stroke="#000" stroke-width="1"/>
<line x1="743" y1="274.37" x2="747" y2="274.37" stroke="#000" stroke-width="1"/>
<line x1="743" y1="262.44" x2="747" y2="262.44" stroke="#000" stroke-width="1"/>
<line x1="743" y1="250.52" x2="747" y2="250.52" stroke="#000" stroke-width="1"/>
<line x1="743" y1="238.59" x2="750" y2="238.59" stroke="#000" stroke-width="1"/>
<text x="757.3" y="242.99" font-size="12" fill="#111">4 ft</text>
<line x1="743" y1="226.66" x2="747" y2="226.66" stroke="#000" stroke-width="1"/>
<line x1="743" y1="214.74" x2="747" y2="214.74" stroke="#000" stroke-width="1"/>
<line x1="743" y1="202.81" x2="747" y2="202.81" stroke="#000" stroke-width="1"/>
<line x1="743" y1="190.89" x2="747" y2="190.89" stroke="#000" stroke-width="1"/>
<line x1="743" y1="178.96" x2="750" y2="178.96" stroke="#000" stroke-width="1"/>
<text x="757.3" y="183.36" font-size="12" fill="#111">5 ft</text>
<line x1="743" y1="167.03" x2="747" y2="167.03" stroke="#000" stroke-width="1"/>
<line x1="743" y1="155.11" x2="747" y2="155.11" stroke="#000" stroke-width="1"/>
<line x1="743" y1="143.18" x2="747" y2="143.18" stroke="#000" stroke-width="1"/>
<line x1="743" y1="131.26" x2="747" y2="131.26" stroke="#000" stroke-width="1"/>
<line x1="743" y1="119.33" x2="750" y2="119.33" stroke="#000" stroke-width="1"/>
<text x="757.3" y="123.73" font-size="12" fill="#111">6 ft</text>
<line x1="743" y1="107.40" x2="747" y2="107.40" stroke="#000" stroke-width="1"/>
<line x1="743" y1="95.48" x2="747" y2="95.48" stroke="#000" stroke-width="1"/>
<line x1="743" y1="83.55" x2="747" y2="83.55" stroke="#000" stroke-width="1"/>
<line x1="743" y1="71.63" x2="747" y2="71.63" stroke="#000" stroke-width="1"/>
<line x1="743" y1="59.70" x2="750" y2="59.70" stroke="#000" stroke-width="1"/>
<text x="757.3" y="64.10" font-size="12" fill="#111">7 ft</text>
</g>
<text x="396.5" y="14.4" font-size="16.7" text-anchor="middle" fill="#111">White Rock – The Spit: falling&#160; ordinary tide at 0.9m (3.1ft)</text>
<text x="396.7" y="29.0" font-size="11.0" font-weight="bold" text-anchor="middle" fill="#111">Image captured 2 hours and 54 minutes after high water. Times are NZST (UTC +12.0hrs)</text>
<text x="86.99" y="40.5" font-size="10.7" text-anchor="middle" fill="#f00" stroke="#f00" stroke-width="0.15">Fri</text>
<text x="86.99" y="53.8" font-size="10.7" text-anchor="middle" fill="#f00" stroke="#f00" stroke-width="0.15">16−May</text>
<text x="163.58" y="40.5" font-size="10.7" text-anchor="middle" fill="#f00" stroke="#f00" stroke-width="0.15">Sat</text>
<text x="163.58" y="53.8" font-size="10.7" text-anchor="middle" fill="#f00" stroke="#f00" stroke-width="0.15">17−May</text>
<text x="240.16" y="40.5" font-size="10.7" text-anchor="middle" fill="#f00" stroke="#f00" stroke-width="0.15">Sun</text>
<text x="240.16" y="53.8" font-size="10.7" text-anchor="middle" fill="#f00" stroke="#f00" stroke-width="0.15">18−May</text>
<text x="316.74" y="40.5" font-size="10.7" text-anchor="middle" fill="#f00" stroke="#f00" stroke-width="0.15">Mon</text>
<text x="316.74" y="53.8" font-size="10.7" text-anchor="middle" fill="#f00" stroke="#f00" stroke-width="0.15">19−May</text>
<text x="393.33" y="40.5" font-size="10.7" text-anchor="middle" fill="#f00" stroke="#f00" stroke-width="0.15">Tue</text>
<text x="393.33" y="53.8" font-size="10.7" text-anchor="middle" fill="#f00" stroke="#f00" stroke-width="0.15">20−May</text>
<text x="469.91" y="40.5" font-size="10.7" text-anchor="middle" fill="#f00" stroke="#f00" stroke-width="0.15">Wed</text>
<text x="469.91" y="53.8" font-size="10.7" text-anchor="middle" fill="#f00" stroke="#f00" stroke-width="0.15">21−May</text>
<text x="546.50" y="40.5" font-size="10.7" text-anchor="middle" fill="#f00" stroke="#f00" stroke-width="0.15">Thu</text>
<text x="546.50" y="53.8" font-size="10.7" text-anchor="middle" fill="#f00" stroke="#f00" stroke-width="0.15">22−May</text>
<text x="623.08" y="40.5" font-size="10.7" text-anchor="middle" fill="#f00" stroke="#f00" stroke-width="0.15">Fri</text>
<text x="623.08" y="53.8" font-size="10.7" text-anchor="middle" fill="#f00" stroke="#f00" stroke-width="0.15">23−May</text>
<text x="699.66" y="40.5" font-size="10.7" text-anchor="middle" fill="#f00" stroke="#f00" stroke-width="0.15">Sat</text>
<text x="699.66" y="53.8" font-size="10.7" text-anchor="middle" fill="#f00" stroke="#f00" stroke-width="0.15">24−May</text>
<text x="45.6" y="479.7" font-size="11" text-anchor="end" fill="#222">Sunrise</text>
<text x="746.6" y="479.7" font-size="11" fill="#222">Sunrise</text>
<text x="45.6" y="493.4" font-size="11" text-anchor="end" fill="#222">Sunset</text>
<text x="746.6" y="493.4" font-size="11" fill="#222">Sunset</text>
<text x="45.6" y="507.0" font-size="11" text-anchor="end" fill="#222">Moonrise</text>
<text x="746.6" y="507.0" font-size="11" fill="#222">Moonrise</text>
<text x="45.6" y="520.5" font-size="11" text-anchor="end" fill="#222">Moonset</text>
<text x="746.6" y="520.5" font-size="11" fill="#222">Moonset</text>
<g class="lb">
<polygon points="148.59,468.40 150.21,473.38 155.44,473.38 151.21,476.45 152.82,481.42 148.59,478.35 144.36,481.42 145.98,476.45 141.74,473.38 146.97,473.38" fill="#5e5a18" stroke="#333" stroke-width="0.5"/><circle cx="148.59" cy="475.60" r="4.1" fill="#bcb637" stroke="#7a5a20" stroke-width="0.6"/><text x="155.09" y="479.60" font-size="9.55" fill="#222" style="stroke-width:0.1px">7:22am</text>
<polygon points="225.23,468.40 226.84,473.38 232.08,473.38 227.84,476.45 229.46,481.42 225.23,478.35 221.00,481.42 222.61,476.45 218.38,473.38 223.61,473.38" fill="#5e5a18" stroke="#333" stroke-width="0.5"/><circle cx="225.23" cy="475.60" r="4.1" fill="#bcb637" stroke="#7a5a20" stroke-width="0.6"/><text x="231.73" y="479.60" font-size="9.55" fill="#222" style="stroke-width:0.1px">7:23am</text>
<polygon points="301.87,468.40 303.48,473.38 308.71,473.38 304.48,476.45 306.10,481.42 301.87,478.35 297.63,481.42 299.25,476.45 295.02,473.38 300.25,473.38" fill="#5e5a18" stroke="#333" stroke-width="0.5"/><circle cx="301.87" cy="475.60" r="4.1" fill="#bcb637" stroke="#7a5a20" stroke-width="0.6"/><text x="308.37" y="479.60" font-size="9.55" fill="#222" style="stroke-width:0.1px">7:24am</text>
<polygon points="378.50,468.40 380.12,473.38 385.35,473.38 381.12,476.45 382.73,481.42 378.50,478.35 374.27,481.42 375.89,476.45 371.65,473.38 376.89,473.38" fill="#5e5a18" stroke="#333" stroke-width="0.5"/><circle cx="378.50" cy="475.60" r="4.1" fill="#bcb637" stroke="#7a5a20" stroke-width="0.6"/><text x="385.00" y="479.60" font-size="9.55" fill="#222" style="stroke-width:0.1px">7:25am</text>
<polygon points="455.14,468.40 456.76,473.38 461.99,473.38 457.76,476.45 459.37,481.42 455.14,478.35 450.91,481.42 452.52,476.45 448.29,473.38 453.52,473.38" fill="#5e5a18" stroke="#333" stroke-width="0.5"/><circle cx="455.14" cy="475.60" r="4.1" fill="#bcb637" stroke="#7a5a20" stroke-width="0.6"/><text x="461.64" y="479.60" font-size="9.55" fill="#222" style="stroke-width:0.1px">7:26am</text>
<polygon points="531.78,468.40 533.39,473.38 538.62,473.38 534.39,476.45 536.01,481.42 531.78,478.35 527.54,481.42 529.16,476.45 524.93,473.38 530.16,473.38" fill="#5e5a18" stroke="#333" stroke-width="0.5"/><circle cx="531.78" cy="475.60" r="4.1" fill="#bcb637" stroke="#7a5a20" stroke-width="0.6"/><text x="538.28" y="479.60" font-size="9.55" fill="#222" style="stroke-width:0.1px">7:27am</text>
<polygon points="608.41,468.40 610.03,473.38 615.26,473.38 611.03,476.45 612.65,481.42 608.41,478.35 604.18,481.42 605.80,476.45 601.57,473.38 606.80,473.38" fill="#5e5a18" stroke="#333" stroke-width="0.5"/><circle cx="608.41" cy="475.60" r="4.1" fill="#bcb637" stroke="#7a5a20" stroke-width="0.6"/><text x="614.91" y="479.60" font-size="9.55" fill="#222" style="stroke-width:0.1px">7:28am</text>
<polygon points="685.05,468.40 686.67,473.38 691.90,473.38 687.67,476.45 689.28,481.42 685.05,478.35 680.82,481.42 682.44,476.45 678.20,473.38 683.43,473.38" fill="#5e5a18" stroke="#333" stroke-width="0.5"/><circle cx="685.05" cy="475.60" r="4.1" fill="#bcb637" stroke="#7a5a20" stroke-width="0.6"/><text x="691.55" y="479.60" font-size="9.55" fill="#222" style="stroke-width:0.1px">7:29am</text>
<polygon points="103.17,482.30 104.79,487.28 110.02,487.28 105.79,490.35 107.40,495.32 103.17,492.25 98.94,495.32 100.56,490.35 96.32,487.28 101.56,487.28" fill="#5a3a18" stroke="#333" stroke-width="0.5"/><circle cx="103.17" cy="489.50" r="4.1" fill="#ad6446" stroke="#6a4020" stroke-width="0.6"/><text x="109.67" y="493.50" font-size="9.55" fill="#222" style="stroke-width:0.1px">5:08pm</text>
<polygon points="179.70,482.30 181.32,487.28 186.55,487.28 182.32,490.35 183.94,495.32 179.70,492.25 175.47,495.32 177.09,490.35 172.86,487.28 178.09,487.28" fill="#5a3a18" stroke="#333" stroke-width="0.5"/><circle cx="179.70" cy="489.50" r="4.1" fill="#ad6446" stroke="#6a4020" stroke-width="0.6"/><text x="186.20" y="493.50" font-size="9.55" fill="#222" style="stroke-width:0.1px">5:07pm</text>
<polygon points="256.23,482.30 257.85,487.28 263.08,487.28 258.85,490.35 260.47,495.32 256.23,492.25 252.00,495.32 253.62,490.35 249.39,487.28 254.62,487.28" fill="#5a3a18" stroke="#333" stroke-width="0.5"/><circle cx="256.23" cy="489.50" r="4.1" fill="#ad6446" stroke="#6a4020" stroke-width="0.6"/><text x="262.73" y="493.50" font-size="9.55" fill="#222" style="stroke-width:0.1px">5:06pm</text>
<polygon points="332.76,482.30 334.38,487.28 339.61,487.28 335.38,490.35 337.00,495.32 332.76,492.25 328.53,495.32 330.15,490.35 325.92,487.28 331.15,487.28" fill="#5a3a18" stroke="#333" stroke-width="0.5"/><circle cx="332.76" cy="489.50" r="4.1" fill="#ad6446" stroke="#6a4020" stroke-width="0.6"/><text x="339.26" y="493.50" font-size="9.55" fill="#222" style="stroke-width:0.1px">5:05pm</text>
<polygon points="409.30,482.30 410.91,487.28 416.14,487.28 411.91,490.35 413.53,495.32 409.30,492.25 405.06,495.32 406.68,490.35 402.45,487.28 407.68,487.28" fill="#5a3a18" stroke="#333" stroke-width="0.5"/><circle cx="409.30" cy="489.50" r="4.1" fill="#ad6446" stroke="#6a4020" stroke-width="0.6"/><text x="415.80" y="493.50" font-size="9.55" fill="#222" style="stroke-width:0.1px">5:04pm</text>
<polygon points="485.88,482.30 487.50,487.28 492.73,487.28 488.50,490.35 490.11,495.32 485.88,492.25 481.65,495.32 483.26,490.35 479.03,487.28 484.26,487.28" fill="#5a3a18" stroke="#333" stroke-width="0.5"/><circle cx="485.88" cy="489.50" r="4.1" fill="#ad6446" stroke="#6a4020" stroke-width="0.6"/><text x="492.38" y="493.50" font-size="9.55" fill="#222" style="stroke-width:0.1px">5:04pm</text>
<polygon points="562.41,482.30 564.03,487.28 569.26,487.28 565.03,490.35 566.64,495.32 562.41,492.25 558.18,495.32 559.80,490.35 555.56,487.28 560.79,487.28" fill="#5a3a18" stroke="#333" stroke-width="0.5"/><circle cx="562.41" cy="489.50" r="4.1" fill="#ad6446" stroke="#6a4020" stroke-width="0.6"/><text x="568.91" y="493.50" font-size="9.55" fill="#222" style="stroke-width:0.1px">5:03pm</text>
<polygon points="638.94,482.30 640.56,487.28 645.79,487.28 641.56,490.35 643.17,495.32 638.94,492.25 634.71,495.32 636.33,490.35 632.09,487.28 637.32,487.28" fill="#5a3a18" stroke="#333" stroke-width="0.5"/><circle cx="638.94" cy="489.50" r="4.1" fill="#ad6446" stroke="#6a4020" stroke-width="0.6"/><text x="645.44" y="493.50" font-size="9.55" fill="#222" style="stroke-width:0.1px">5:02pm</text>
<circle cx="109.87" cy="503.00" r="5.0" fill="#ffffc8" stroke="#777" stroke-width="1"/><text x="116.37" y="507.00" font-size="9.55" fill="#222" style="stroke-width:0.1px">7:14pm</text>
<circle cx="189.75" cy="503.00" r="5.0" fill="#ffffc8" stroke="#777" stroke-width="1"/><text x="196.25" y="507.00" font-size="9.55" fill="#222" style="stroke-width:0.1px">8:16pm</text>
<circle cx="269.96" cy="503.00" r="5.0" fill="#ffffc8" stroke="#777" stroke-width="1"/><text x="276.46" y="507.00" font-size="9.55" fill="#222" style="stroke-width:0.1px">9:24pm</text>
<circle cx="350.26" cy="503.00" r="5.0" fill="#ffffc8" stroke="#777" stroke-width="1"/><text x="356.76" y="507.00" font-size="9.55" fill="#222" style="stroke-width:0.1px">10:34pm</text>
<circle cx="430.68" cy="503.00" r="5.0" fill="#ffffc8" stroke="#777" stroke-width="1"/><text x="437.18" y="507.00" font-size="9.55" fill="#222" style="stroke-width:0.1px">11:46pm</text>
<circle cx="511.09" cy="503.00" r="5.0" fill="#ffffc8" stroke="#777" stroke-width="1"/><text x="517.59" y="507.00" font-size="9.55" fill="#222" style="stroke-width:0.1px">12:58am</text>
<circle cx="591.56" cy="503.00" r="5.0" fill="#ffffc8" stroke="#777" stroke-width="1"/><text x="598.06" y="507.00" font-size="9.55" fill="#222" style="stroke-width:0.1px">2:11am</text>
<circle cx="672.18" cy="503.00" r="5.0" fill="#ffffc8" stroke="#777" stroke-width="1"/><text x="678.68" y="507.00" font-size="9.55" fill="#222" style="stroke-width:0.1px">3:27am</text>
<circle cx="161.89" cy="516.50" r="5.0" fill="#c6c6a6" stroke="#666" stroke-width="1"/><text x="168.39" y="520.50" font-size="9.55" fill="#222" style="stroke-width:0.1px">11:32am</text>
<circle cx="240.60" cy="516.50" r="5.0" fill="#c6c6a6" stroke="#666" stroke-width="1"/><text x="247.10" y="520.50" font-size="9.55" fill="#222" style="stroke-width:0.1px">12:12pm</text>
<circle cx="318.94" cy="516.50" r="5.0" fill="#c6c6a6" stroke="#666" stroke-width="1"/><text x="325.44" y="520.50" font-size="9.55" fill="#222" style="stroke-width:0.1px">12:45pm</text>
<circle cx="397.01" cy="516.50" r="5.0" fill="#c6c6a6" stroke="#666" stroke-width="1"/><text x="403.51" y="520.50" font-size="9.55" fill="#222" style="stroke-width:0.1px">1:13pm</text>
<circle cx="474.87" cy="516.50" r="5.0" fill="#c6c6a6" stroke="#666" stroke-width="1"/><text x="481.37" y="520.50" font-size="9.55" fill="#222" style="stroke-width:0.1px">1:37pm</text>
<circle cx="552.68" cy="516.50" r="5.0" fill="#c6c6a6" stroke="#666" stroke-width="1"/><text x="559.18" y="520.50" font-size="9.55" fill="#222" style="stroke-width:0.1px">2:00pm</text>
<circle cx="630.43" cy="516.50" r="5.0" fill="#c6c6a6" stroke="#666" stroke-width="1"/><text x="636.93" y="520.50" font-size="9.55" fill="#222" style="stroke-width:0.1px">2:22pm</text>
</g>
<text x="375.8" y="533.6" font-size="9.28" fill="#222">Last Quarter | 12:00am</text>
</svg></div></body></html>
